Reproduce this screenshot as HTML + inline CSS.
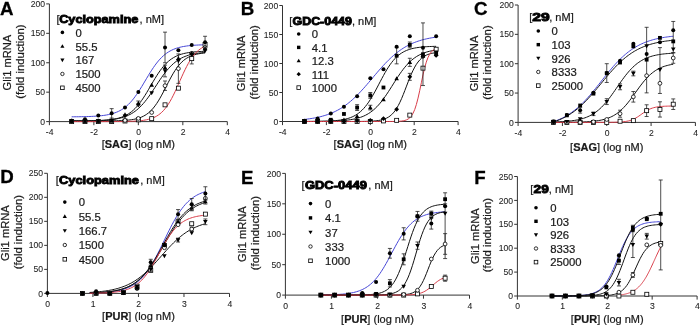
<!DOCTYPE html>
<html><head><meta charset="utf-8"><style>
html,body{margin:0;padding:0;background:#fff;}
body{width:700px;height:327px;overflow:hidden;font-family:"Liberation Sans", sans-serif;}
svg{display:block;will-change:transform;}
</style></head><body><svg width="700" height="327" viewBox="0 0 700 327" font-family="'Liberation Sans', sans-serif"><text x="0.00" y="15.30" font-size="18.7" text-anchor="start" font-weight="bold" fill="#000" stroke="#000" stroke-width="0.3">A</text><path d="M49.40,3.90 V121.60 H227.30" fill="none" stroke="#333" stroke-width="1"/><path d="M46.20,121.60 H49.40 M46.20,92.17 H49.40 M46.20,62.75 H49.40 M46.20,33.32 H49.40 M46.20,3.90 H49.40 M49.40,121.60 v3.6 M93.88,121.60 v3.6 M138.35,121.60 v3.6 M182.83,121.60 v3.6 M227.30,121.60 v3.6 " fill="none" stroke="#333" stroke-width="1"/><text x="45.10" y="124.70" font-size="8.6" text-anchor="end" font-weight="normal" fill="#1a1a1a" stroke="#333" stroke-width="0.08">0</text><text x="45.10" y="95.27" font-size="8.6" text-anchor="end" font-weight="normal" fill="#1a1a1a" stroke="#333" stroke-width="0.08">50</text><text x="45.10" y="65.85" font-size="8.6" text-anchor="end" font-weight="normal" fill="#1a1a1a" stroke="#333" stroke-width="0.08">100</text><text x="45.10" y="36.42" font-size="8.6" text-anchor="end" font-weight="normal" fill="#1a1a1a" stroke="#333" stroke-width="0.08">150</text><text x="45.10" y="7.00" font-size="8.6" text-anchor="end" font-weight="normal" fill="#1a1a1a" stroke="#333" stroke-width="0.08">200</text><text x="49.70" y="134.80" font-size="8.6" text-anchor="middle" font-weight="normal" fill="#1a1a1a" stroke="#333" stroke-width="0.08">-4</text><text x="94.17" y="134.80" font-size="8.6" text-anchor="middle" font-weight="normal" fill="#1a1a1a" stroke="#333" stroke-width="0.08">-2</text><text x="138.65" y="134.80" font-size="8.6" text-anchor="middle" font-weight="normal" fill="#1a1a1a" stroke="#333" stroke-width="0.08">0</text><text x="183.13" y="134.80" font-size="8.6" text-anchor="middle" font-weight="normal" fill="#1a1a1a" stroke="#333" stroke-width="0.08">2</text><text x="227.60" y="134.80" font-size="8.6" text-anchor="middle" font-weight="normal" fill="#1a1a1a" stroke="#333" stroke-width="0.08">4</text><text x="138.35" y="148.00" font-size="11" text-anchor="middle" fill="#1a1a1a" stroke="#1a1a1a" stroke-width="0.22">[<tspan font-weight="bold">SAG</tspan>] (log nM)</text><text transform="translate(10.90,62.55) rotate(-90)" font-size="11.15" text-anchor="middle" fill="#1a1a1a" stroke="#1a1a1a" stroke-width="0.22">Gli1 mRNA</text><text transform="translate(23.60,61.55) rotate(-90)" font-size="11.35" text-anchor="middle" fill="#1a1a1a" stroke="#1a1a1a" stroke-width="0.22">(fold induction)</text><text x="56.40" y="22.50" font-size="11" fill="#1a1a1a" stroke="#1a1a1a" stroke-width="0.22">[</text><text x="59.20" y="22.50" font-size="11" font-weight="bold" fill="#000" stroke="#000" stroke-width="0.9" textLength="79.10" lengthAdjust="spacingAndGlyphs">Cyclopamine</text><text x="164.00" y="22.50" font-size="11" text-anchor="end" fill="#1a1a1a" stroke="#1a1a1a" stroke-width="0.22">, nM]</text><circle cx="62.40" cy="32.40" r="1.80" fill="#000"/><text x="75.50" y="36.70" font-size="11.3" text-anchor="start" font-weight="normal" fill="#1a1a1a"  stroke="#1a1a1a" stroke-width="0.22">0</text><path d="M62.40,44.18 L64.47,47.80 L60.33,47.80Z" fill="#000"/><text x="75.50" y="50.55" font-size="11.3" text-anchor="start" font-weight="normal" fill="#1a1a1a"  stroke="#1a1a1a" stroke-width="0.22">55.5</text><path d="M62.40,62.17 L64.47,58.55 L60.33,58.55Z" fill="#000"/><text x="75.50" y="64.40" font-size="11.3" text-anchor="start" font-weight="normal" fill="#1a1a1a"  stroke="#1a1a1a" stroke-width="0.22">167</text><circle cx="62.40" cy="73.95" r="1.71" fill="#fff" stroke="#000" stroke-width="0.8"/><text x="75.50" y="78.25" font-size="11.3" text-anchor="start" font-weight="normal" fill="#1a1a1a"  stroke="#1a1a1a" stroke-width="0.22">1500</text><rect x="60.60" y="86.00" width="3.60" height="3.60" fill="#fff" stroke="#000" stroke-width="0.8"/><text x="75.50" y="92.10" font-size="11.3" text-anchor="start" font-weight="normal" fill="#1a1a1a"  stroke="#1a1a1a" stroke-width="0.22">4500</text><polyline points="71.64,116.82 73.31,116.80 74.97,116.79 76.64,116.77 78.31,116.75 79.98,116.73 81.64,116.70 83.31,116.67 84.98,116.63 86.65,116.59 88.32,116.53 89.98,116.47 91.65,116.40 93.32,116.32 94.99,116.23 96.65,116.12 98.32,115.99 99.99,115.84 101.66,115.67 103.33,115.46 104.99,115.23 106.66,114.96 108.33,114.64 110.00,114.28 111.66,113.86 113.33,113.37 115.00,112.81 116.67,112.17 118.34,111.44 120.00,110.60 121.67,109.65 123.34,108.57 125.01,107.36 126.68,106.00 128.34,104.48 130.01,102.80 131.68,100.95 133.35,98.93 135.01,96.75 136.68,94.42 138.35,91.94 140.02,89.34 141.69,86.65 143.35,83.88 145.02,81.07 146.69,78.27 148.36,75.49 150.02,72.77 151.69,70.14 153.36,67.63 155.03,65.25 156.70,63.03 158.36,60.97 160.03,59.08 161.70,57.35 163.37,55.79 165.03,54.39 166.70,53.14 168.37,52.02 170.04,51.04 171.71,50.17 173.37,49.41 175.04,48.75 176.71,48.17 178.38,47.66 180.05,47.23 181.71,46.85 183.38,46.52 185.05,46.24 186.72,45.99 188.38,45.78 190.05,45.60 191.72,45.45 193.39,45.31 195.06,45.20 196.72,45.10 198.39,45.01 200.06,44.94 201.73,44.88 203.39,44.83 205.06,44.78" fill="none" stroke="#4646d6" stroke-width="1"/><polyline points="71.64,120.98 73.31,120.98 74.97,120.97 76.64,120.96 78.31,120.95 79.98,120.94 81.64,120.93 83.31,120.92 84.98,120.90 86.65,120.88 88.32,120.86 89.98,120.83 91.65,120.80 93.32,120.76 94.99,120.72 96.65,120.67 98.32,120.60 99.99,120.53 101.66,120.45 103.33,120.35 104.99,120.23 106.66,120.09 108.33,119.93 110.00,119.74 111.66,119.52 113.33,119.26 115.00,118.96 116.67,118.61 118.34,118.19 120.00,117.71 121.67,117.16 123.34,116.52 125.01,115.77 126.68,114.92 128.34,113.95 130.01,112.83 131.68,111.57 133.35,110.15 135.01,108.56 136.68,106.79 138.35,104.84 140.02,102.71 141.69,100.41 143.35,97.94 145.02,95.34 146.69,92.62 148.36,89.81 150.02,86.95 151.69,84.08 153.36,81.24 155.03,78.46 156.70,75.77 158.36,73.21 160.03,70.80 161.70,68.55 163.37,66.48 165.03,64.59 166.70,62.88 168.37,61.35 170.04,59.98 171.71,58.77 173.37,57.71 175.04,56.77 176.71,55.96 178.38,55.25 180.05,54.64 181.71,54.11 183.38,53.65 185.05,53.26 186.72,52.93 188.38,52.64 190.05,52.39 191.72,52.18 193.39,52.00 195.06,51.85 196.72,51.72 198.39,51.61 200.06,51.51 201.73,51.43 203.39,51.37 205.06,51.31" fill="none" stroke="#111" stroke-width="1"/><polyline points="71.64,120.97 73.31,120.96 74.97,120.95 76.64,120.95 78.31,120.94 79.98,120.92 81.64,120.91 83.31,120.89 84.98,120.87 86.65,120.85 88.32,120.83 89.98,120.80 91.65,120.76 93.32,120.73 94.99,120.68 96.65,120.63 98.32,120.57 99.99,120.50 101.66,120.42 103.33,120.33 104.99,120.22 106.66,120.10 108.33,119.95 110.00,119.79 111.66,119.60 113.33,119.38 115.00,119.13 116.67,118.84 118.34,118.51 120.00,118.13 121.67,117.70 123.34,117.21 125.01,116.64 126.68,116.00 128.34,115.27 130.01,114.45 131.68,113.53 133.35,112.49 135.01,111.33 136.68,110.04 138.35,108.62 140.02,107.05 141.69,105.34 143.35,103.49 145.02,101.50 146.69,99.37 148.36,97.13 150.02,94.78 151.69,92.34 153.36,89.85 155.03,87.31 156.70,84.76 158.36,82.23 160.03,79.74 161.70,77.32 163.37,74.99 165.03,72.77 166.70,70.67 168.37,68.71 170.04,66.89 171.71,65.20 173.37,63.67 175.04,62.27 176.71,61.01 178.38,59.87 180.05,58.86 181.71,57.95 183.38,57.15 185.05,56.44 186.72,55.82 188.38,55.27 190.05,54.79 191.72,54.37 193.39,54.00 195.06,53.68 196.72,53.40 198.39,53.15 200.06,52.94 201.73,52.76 203.39,52.60 205.06,52.46" fill="none" stroke="#111" stroke-width="1"/><polyline points="71.64,121.01 73.31,121.01 74.97,121.01 76.64,121.01 78.31,121.01 79.98,121.01 81.64,121.01 83.31,121.01 84.98,121.00 86.65,121.00 88.32,121.00 89.98,121.00 91.65,121.00 93.32,120.99 94.99,120.99 96.65,120.99 98.32,120.98 99.99,120.97 101.66,120.97 103.33,120.96 104.99,120.95 106.66,120.93 108.33,120.92 110.00,120.90 111.66,120.87 113.33,120.84 115.00,120.81 116.67,120.77 118.34,120.72 120.00,120.65 121.67,120.58 123.34,120.49 125.01,120.38 126.68,120.25 128.34,120.10 130.01,119.91 131.68,119.68 133.35,119.41 135.01,119.08 136.68,118.69 138.35,118.23 140.02,117.67 141.69,117.01 143.35,116.23 145.02,115.32 146.69,114.24 148.36,112.99 150.02,111.54 151.69,109.88 153.36,108.00 155.03,105.87 156.70,103.51 158.36,100.92 160.03,98.11 161.70,95.12 163.37,91.99 165.03,88.76 166.70,85.49 168.37,82.25 170.04,79.08 171.71,76.03 173.37,73.16 175.04,70.50 176.71,68.06 178.38,65.85 180.05,63.89 181.71,62.15 183.38,60.64 185.05,59.32 186.72,58.19 188.38,57.22 190.05,56.40 191.72,55.70 193.39,55.12 195.06,54.62 196.72,54.21 198.39,53.86 200.06,53.57 201.73,53.33 203.39,53.13 205.06,52.97" fill="none" stroke="#111" stroke-width="1"/><polyline points="71.64,121.60 73.31,121.60 74.97,121.60 76.64,121.60 78.31,121.60 79.98,121.60 81.64,121.60 83.31,121.60 84.98,121.60 86.65,121.60 88.32,121.60 89.98,121.60 91.65,121.60 93.32,121.60 94.99,121.59 96.65,121.59 98.32,121.59 99.99,121.59 101.66,121.59 103.33,121.59 104.99,121.58 106.66,121.58 108.33,121.58 110.00,121.57 111.66,121.56 113.33,121.56 115.00,121.55 116.67,121.54 118.34,121.53 120.00,121.51 121.67,121.49 123.34,121.47 125.01,121.44 126.68,121.41 128.34,121.37 130.01,121.32 131.68,121.26 133.35,121.19 135.01,121.10 136.68,121.00 138.35,120.87 140.02,120.72 141.69,120.54 143.35,120.32 145.02,120.06 146.69,119.75 148.36,119.37 150.02,118.92 151.69,118.39 153.36,117.75 155.03,116.99 156.70,116.09 158.36,115.03 160.03,113.79 161.70,112.35 163.37,110.68 165.03,108.76 166.70,106.58 168.37,104.13 170.04,101.41 171.71,98.41 173.37,95.18 175.04,91.73 176.71,88.11 178.38,84.39 180.05,80.62 181.71,76.87 183.38,73.21 185.05,69.70 186.72,66.39 188.38,63.31 190.05,60.50 191.72,57.96 193.39,55.69 195.06,53.69 196.72,51.94 198.39,50.42 200.06,49.11 201.73,48.00 203.39,47.05 205.06,46.25" fill="none" stroke="#d83c48" stroke-width="1"/><rect x="69.64" y="119.60" width="4.00" height="4.00" fill="#fff" stroke="#000" stroke-width="0.8"/><rect x="82.98" y="119.60" width="4.00" height="4.00" fill="#fff" stroke="#000" stroke-width="0.8"/><rect x="96.32" y="119.60" width="4.00" height="4.00" fill="#fff" stroke="#000" stroke-width="0.8"/><rect x="109.66" y="119.60" width="4.00" height="4.00" fill="#fff" stroke="#000" stroke-width="0.8"/><rect x="123.01" y="119.01" width="4.00" height="4.00" fill="#fff" stroke="#000" stroke-width="0.8"/><rect x="136.35" y="117.83" width="4.00" height="4.00" fill="#fff" stroke="#000" stroke-width="0.8"/><rect x="149.69" y="116.66" width="4.00" height="4.00" fill="#fff" stroke="#000" stroke-width="0.8"/><rect x="163.03" y="102.83" width="4.00" height="4.00" fill="#fff" stroke="#000" stroke-width="0.8"/><rect x="176.38" y="86.17" width="4.00" height="4.00" fill="#fff" stroke="#000" stroke-width="0.8"/><path d="M191.72,53.33 V63.93 M189.72,53.33 h4 M189.72,63.93 h4" stroke="#222" stroke-width="0.8" fill="none"/><rect x="189.72" y="56.63" width="4.00" height="4.00" fill="#fff" stroke="#000" stroke-width="0.8"/><rect x="203.06" y="42.51" width="4.00" height="4.00" fill="#fff" stroke="#000" stroke-width="0.8"/><circle cx="71.64" cy="121.01" r="1.90" fill="#fff" stroke="#000" stroke-width="0.8"/><circle cx="84.98" cy="121.01" r="1.90" fill="#fff" stroke="#000" stroke-width="0.8"/><circle cx="98.32" cy="121.01" r="1.90" fill="#fff" stroke="#000" stroke-width="0.8"/><circle cx="111.66" cy="121.01" r="1.90" fill="#fff" stroke="#000" stroke-width="0.8"/><circle cx="125.01" cy="120.42" r="1.90" fill="#fff" stroke="#000" stroke-width="0.8"/><circle cx="138.35" cy="118.42" r="1.90" fill="#fff" stroke="#000" stroke-width="0.8"/><circle cx="151.69" cy="112.48" r="1.90" fill="#fff" stroke="#000" stroke-width="0.8"/><path d="M165.03,80.99 V90.41 M163.03,80.99 h4 M163.03,90.41 h4" stroke="#222" stroke-width="0.8" fill="none"/><circle cx="165.03" cy="85.70" r="1.90" fill="#fff" stroke="#000" stroke-width="0.8"/><path d="M178.38,53.92 V83.35 M176.38,53.92 h4 M176.38,83.35 h4" stroke="#222" stroke-width="0.8" fill="none"/><circle cx="178.38" cy="68.64" r="1.90" fill="#fff" stroke="#000" stroke-width="0.8"/><circle cx="191.72" cy="53.33" r="1.90" fill="#fff" stroke="#000" stroke-width="0.8"/><circle cx="205.06" cy="47.45" r="1.90" fill="#fff" stroke="#000" stroke-width="0.8"/><path d="M71.64,123.31 L73.94,119.29 L69.34,119.29Z" fill="#000"/><path d="M84.98,123.31 L87.28,119.29 L82.68,119.29Z" fill="#000"/><path d="M98.32,123.31 L100.62,119.29 L96.02,119.29Z" fill="#000"/><path d="M111.66,122.72 L113.96,118.70 L109.36,118.70Z" fill="#000"/><path d="M125.01,118.60 L127.31,114.58 L122.71,114.58Z" fill="#000"/><path d="M138.35,107.42 L140.65,103.40 L136.05,103.40Z" fill="#000"/><path d="M151.69,95.18 L153.99,91.16 L149.39,91.16Z" fill="#000"/><path d="M165.03,65.10 V76.87 M163.03,65.10 h4 M163.03,76.87 h4" stroke="#222" stroke-width="0.8" fill="none"/><path d="M165.03,73.29 L167.34,69.26 L162.73,69.26Z" fill="#000"/><path d="M178.38,63.28 L180.68,59.26 L176.08,59.26Z" fill="#000"/><path d="M191.72,56.81 L194.02,52.79 L189.42,52.79Z" fill="#000"/><path d="M205.06,53.28 L207.36,49.26 L202.76,49.26Z" fill="#000"/><path d="M71.64,118.71 L73.94,122.74 L69.34,122.74Z" fill="#000"/><path d="M84.98,118.71 L87.28,122.74 L82.68,122.74Z" fill="#000"/><path d="M98.32,118.71 L100.62,122.74 L96.02,122.74Z" fill="#000"/><path d="M111.66,118.12 L113.96,122.15 L109.36,122.15Z" fill="#000"/><path d="M125.01,112.24 L127.31,116.26 L122.71,116.26Z" fill="#000"/><path d="M138.35,101.00 V105.71 M136.35,101.00 h4 M136.35,105.71 h4" stroke="#222" stroke-width="0.8" fill="none"/><path d="M138.35,101.06 L140.65,105.08 L136.05,105.08Z" fill="#000"/><path d="M151.69,82.81 L153.99,86.84 L149.39,86.84Z" fill="#000"/><path d="M165.03,65.16 L167.34,69.18 L162.73,69.18Z" fill="#000"/><path d="M178.38,55.98 L180.68,60.00 L176.08,60.00Z" fill="#000"/><path d="M191.72,51.03 L194.02,55.06 L189.42,55.06Z" fill="#000"/><path d="M205.06,46.33 L207.36,50.35 L202.76,50.35Z" fill="#000"/><circle cx="71.64" cy="121.01" r="2.00" fill="#000"/><circle cx="84.98" cy="119.25" r="2.00" fill="#000"/><circle cx="98.32" cy="115.48" r="2.00" fill="#000"/><path d="M111.66,108.65 V118.07 M109.66,108.65 h4 M109.66,118.07 h4" stroke="#222" stroke-width="0.8" fill="none"/><circle cx="111.66" cy="113.36" r="2.00" fill="#000"/><circle cx="125.01" cy="107.48" r="2.00" fill="#000"/><circle cx="138.35" cy="91.88" r="2.00" fill="#000"/><circle cx="151.69" cy="75.70" r="2.00" fill="#000"/><path d="M165.03,32.15 V62.75 M163.03,32.15 h4 M163.03,62.75 h4" stroke="#222" stroke-width="0.8" fill="none"/><circle cx="165.03" cy="47.45" r="2.00" fill="#000"/><circle cx="178.38" cy="50.21" r="2.00" fill="#000"/><circle cx="191.72" cy="44.92" r="2.00" fill="#000"/><path d="M205.06,36.27 V48.04 M203.06,36.27 h4 M203.06,48.04 h4" stroke="#222" stroke-width="0.8" fill="none"/><circle cx="205.06" cy="42.15" r="2.00" fill="#000"/><text x="240.80" y="15.10" font-size="18.7" text-anchor="start" font-weight="bold" fill="#000" stroke="#000" stroke-width="0.3">B</text><path d="M282.50,5.50 V121.50 H458.10" fill="none" stroke="#333" stroke-width="1"/><path d="M279.30,121.50 H282.50 M279.30,92.50 H282.50 M279.30,63.50 H282.50 M279.30,34.50 H282.50 M279.30,5.50 H282.50 M282.50,121.50 v3.6 M326.40,121.50 v3.6 M370.30,121.50 v3.6 M414.20,121.50 v3.6 M458.10,121.50 v3.6 " fill="none" stroke="#333" stroke-width="1"/><text x="278.20" y="124.60" font-size="8.6" text-anchor="end" font-weight="normal" fill="#1a1a1a" stroke="#333" stroke-width="0.08">0</text><text x="278.20" y="95.60" font-size="8.6" text-anchor="end" font-weight="normal" fill="#1a1a1a" stroke="#333" stroke-width="0.08">50</text><text x="278.20" y="66.60" font-size="8.6" text-anchor="end" font-weight="normal" fill="#1a1a1a" stroke="#333" stroke-width="0.08">100</text><text x="278.20" y="37.60" font-size="8.6" text-anchor="end" font-weight="normal" fill="#1a1a1a" stroke="#333" stroke-width="0.08">150</text><text x="278.20" y="8.60" font-size="8.6" text-anchor="end" font-weight="normal" fill="#1a1a1a" stroke="#333" stroke-width="0.08">200</text><text x="282.80" y="134.70" font-size="8.6" text-anchor="middle" font-weight="normal" fill="#1a1a1a" stroke="#333" stroke-width="0.08">-4</text><text x="326.70" y="134.70" font-size="8.6" text-anchor="middle" font-weight="normal" fill="#1a1a1a" stroke="#333" stroke-width="0.08">-2</text><text x="370.60" y="134.70" font-size="8.6" text-anchor="middle" font-weight="normal" fill="#1a1a1a" stroke="#333" stroke-width="0.08">0</text><text x="414.50" y="134.70" font-size="8.6" text-anchor="middle" font-weight="normal" fill="#1a1a1a" stroke="#333" stroke-width="0.08">2</text><text x="458.40" y="134.70" font-size="8.6" text-anchor="middle" font-weight="normal" fill="#1a1a1a" stroke="#333" stroke-width="0.08">4</text><text x="370.30" y="147.90" font-size="11" text-anchor="middle" fill="#1a1a1a" stroke="#1a1a1a" stroke-width="0.22">[<tspan font-weight="bold">SAG</tspan>] (log nM)</text><text transform="translate(244.70,63.30) rotate(-90)" font-size="11.15" text-anchor="middle" fill="#1a1a1a" stroke="#1a1a1a" stroke-width="0.22">Gli1 mRNA</text><text transform="translate(257.60,62.30) rotate(-90)" font-size="11.35" text-anchor="middle" fill="#1a1a1a" stroke="#1a1a1a" stroke-width="0.22">(fold induction)</text><text x="289.30" y="24.60" font-size="11" fill="#1a1a1a" stroke="#1a1a1a" stroke-width="0.22">[</text><text x="292.50" y="24.60" font-size="11" font-weight="bold" fill="#000" stroke="#000" stroke-width="0.9" textLength="59.40" lengthAdjust="spacingAndGlyphs">GDC-0449</text><text x="376.40" y="24.60" font-size="11" text-anchor="end" fill="#1a1a1a" stroke="#1a1a1a" stroke-width="0.22">, nM]</text><circle cx="298.70" cy="34.00" r="1.80" fill="#000"/><text x="311.80" y="38.30" font-size="11.3" text-anchor="start" font-weight="normal" fill="#1a1a1a"  stroke="#1a1a1a" stroke-width="0.22">0</text><rect x="296.99" y="45.69" width="3.42" height="3.42" fill="#000"/><text x="311.80" y="51.70" font-size="11.3" text-anchor="start" font-weight="normal" fill="#1a1a1a"  stroke="#1a1a1a" stroke-width="0.22">4.1</text><path d="M298.70,58.73 L300.77,62.35 L296.63,62.35Z" fill="#000"/><text x="311.80" y="65.10" font-size="11.3" text-anchor="start" font-weight="normal" fill="#1a1a1a"  stroke="#1a1a1a" stroke-width="0.22">12.3</text><path d="M298.70,72.04 L300.86,74.20 L298.70,76.36 L296.54,74.20Z" fill="#000"/><text x="311.80" y="78.50" font-size="11.3" text-anchor="start" font-weight="normal" fill="#1a1a1a"  stroke="#1a1a1a" stroke-width="0.22">111</text><rect x="296.90" y="85.80" width="3.60" height="3.60" fill="#fff" stroke="#000" stroke-width="0.8"/><text x="311.80" y="91.90" font-size="11.3" text-anchor="start" font-weight="normal" fill="#1a1a1a"  stroke="#1a1a1a" stroke-width="0.22">1000</text><polyline points="304.45,119.42 306.10,119.24 307.74,119.03 309.39,118.80 311.04,118.56 312.68,118.29 314.33,118.00 315.97,117.69 317.62,117.35 319.27,116.98 320.91,116.58 322.56,116.14 324.20,115.67 325.85,115.17 327.50,114.62 329.14,114.03 330.79,113.39 332.44,112.71 334.08,111.97 335.73,111.18 337.38,110.33 339.02,109.43 340.67,108.47 342.31,107.44 343.96,106.35 345.61,105.19 347.25,103.97 348.90,102.68 350.55,101.32 352.19,99.90 353.84,98.40 355.48,96.85 357.13,95.23 358.78,93.56 360.42,91.83 362.07,90.05 363.72,88.22 365.36,86.36 367.01,84.46 368.65,82.54 370.30,80.60 371.95,78.65 373.59,76.70 375.24,74.75 376.88,72.82 378.53,70.90 380.18,69.02 381.82,67.16 383.47,65.35 385.12,63.59 386.76,61.88 388.41,60.22 390.06,58.63 391.70,57.09 393.35,55.62 394.99,54.22 396.64,52.88 398.29,51.62 399.93,50.41 401.58,49.28 403.23,48.21 404.87,47.20 406.52,46.26 408.16,45.38 409.81,44.55 411.46,43.78 413.10,43.06 414.75,42.39 416.39,41.77 418.04,41.19 419.69,40.66 421.33,40.17 422.98,39.71 424.63,39.29 426.27,38.90 427.92,38.54 429.57,38.20 431.21,37.90 432.86,37.62 434.50,37.36 436.15,37.12" fill="none" stroke="#4646d6" stroke-width="1"/><polyline points="304.45,121.46 306.10,121.46 307.74,121.45 309.39,121.44 311.04,121.43 312.68,121.41 314.33,121.40 315.97,121.38 317.62,121.36 319.27,121.33 320.91,121.30 322.56,121.26 324.20,121.22 325.85,121.17 327.50,121.11 329.14,121.03 330.79,120.95 332.44,120.85 334.08,120.73 335.73,120.60 337.38,120.43 339.02,120.24 340.67,120.02 342.31,119.75 343.96,119.44 345.61,119.08 347.25,118.65 348.90,118.16 350.55,117.58 352.19,116.91 353.84,116.13 355.48,115.23 357.13,114.20 358.78,113.02 360.42,111.68 362.07,110.16 363.72,108.44 365.36,106.54 367.01,104.43 368.65,102.11 370.30,99.60 371.95,96.91 373.59,94.06 375.24,91.08 376.88,87.99 378.53,84.85 380.18,81.70 381.82,78.57 383.47,75.52 385.12,72.57 386.76,69.77 388.41,67.14 390.06,64.69 391.70,62.45 393.35,60.41 394.99,58.56 396.64,56.92 398.29,55.46 399.93,54.17 401.58,53.04 403.23,52.05 404.87,51.20 406.52,50.46 408.16,49.82 409.81,49.27 411.46,48.80 413.10,48.39 414.75,48.05 416.39,47.75 418.04,47.50 419.69,47.29 421.33,47.11 422.98,46.96 424.63,46.83 426.27,46.71 427.92,46.62 429.57,46.54 431.21,46.47 432.86,46.42 434.50,46.37 436.15,46.33" fill="none" stroke="#111" stroke-width="1"/><polyline points="304.45,121.47 306.10,121.46 307.74,121.46 309.39,121.45 311.04,121.44 312.68,121.43 314.33,121.42 315.97,121.41 317.62,121.39 319.27,121.38 320.91,121.36 322.56,121.34 324.20,121.31 325.85,121.28 327.50,121.25 329.14,121.21 330.79,121.17 332.44,121.12 334.08,121.06 335.73,120.99 337.38,120.91 339.02,120.82 340.67,120.72 342.31,120.60 343.96,120.46 345.61,120.31 347.25,120.13 348.90,119.92 350.55,119.68 352.19,119.41 353.84,119.10 355.48,118.74 357.13,118.34 358.78,117.87 360.42,117.35 362.07,116.75 363.72,116.07 365.36,115.31 367.01,114.44 368.65,113.48 370.30,112.39 371.95,111.19 373.59,109.85 375.24,108.38 376.88,106.76 378.53,105.01 380.18,103.10 381.82,101.06 383.47,98.89 385.12,96.59 386.76,94.18 388.41,91.69 390.06,89.13 391.70,86.53 393.35,83.91 394.99,81.31 396.64,78.74 398.29,76.23 399.93,73.80 401.58,71.48 403.23,69.28 404.87,67.21 406.52,65.28 408.16,63.50 409.81,61.85 411.46,60.35 413.10,58.99 414.75,57.76 416.39,56.65 418.04,55.66 419.69,54.78 421.33,53.99 422.98,53.30 424.63,52.69 426.27,52.15 427.92,51.67 429.57,51.25 431.21,50.89 432.86,50.57 434.50,50.29 436.15,50.04" fill="none" stroke="#111" stroke-width="1"/><polyline points="304.45,121.50 306.10,121.50 307.74,121.50 309.39,121.50 311.04,121.50 312.68,121.50 314.33,121.50 315.97,121.50 317.62,121.50 319.27,121.50 320.91,121.50 322.56,121.50 324.20,121.50 325.85,121.50 327.50,121.50 329.14,121.50 330.79,121.50 332.44,121.50 334.08,121.50 335.73,121.50 337.38,121.50 339.02,121.50 340.67,121.50 342.31,121.50 343.96,121.49 345.61,121.49 347.25,121.49 348.90,121.49 350.55,121.48 352.19,121.48 353.84,121.47 355.48,121.47 357.13,121.46 358.78,121.45 360.42,121.43 362.07,121.41 363.72,121.39 365.36,121.36 367.01,121.32 368.65,121.26 370.30,121.20 371.95,121.11 373.59,121.01 375.24,120.87 376.88,120.69 378.53,120.47 380.18,120.18 381.82,119.82 383.47,119.36 385.12,118.77 386.76,118.04 388.41,117.13 390.06,115.99 391.70,114.59 393.35,112.88 394.99,110.82 396.64,108.37 398.29,105.52 399.93,102.25 401.58,98.60 403.23,94.64 404.87,90.44 406.52,86.12 408.16,81.83 409.81,77.68 411.46,73.79 413.10,70.24 414.75,67.08 416.39,64.34 418.04,62.00 419.69,60.03 421.33,58.41 422.98,57.08 424.63,56.01 426.27,55.15 427.92,54.46 429.57,53.91 431.21,53.48 432.86,53.14 434.50,52.87 436.15,52.66" fill="none" stroke="#111" stroke-width="1"/><polyline points="304.45,121.50 306.10,121.50 307.74,121.50 309.39,121.50 311.04,121.50 312.68,121.50 314.33,121.50 315.97,121.50 317.62,121.50 319.27,121.50 320.91,121.50 322.56,121.50 324.20,121.50 325.85,121.50 327.50,121.50 329.14,121.50 330.79,121.50 332.44,121.50 334.08,121.50 335.73,121.50 337.38,121.50 339.02,121.50 340.67,121.50 342.31,121.50 343.96,121.50 345.61,121.50 347.25,121.50 348.90,121.50 350.55,121.50 352.19,121.50 353.84,121.50 355.48,121.50 357.13,121.50 358.78,121.50 360.42,121.50 362.07,121.50 363.72,121.50 365.36,121.50 367.01,121.50 368.65,121.50 370.30,121.50 371.95,121.50 373.59,121.50 375.24,121.50 376.88,121.50 378.53,121.50 380.18,121.50 381.82,121.50 383.47,121.50 385.12,121.49 386.76,121.49 388.41,121.49 390.06,121.48 391.70,121.47 393.35,121.45 394.99,121.42 396.64,121.38 398.29,121.31 399.93,121.21 401.58,121.05 403.23,120.81 404.87,120.44 406.52,119.87 408.16,119.03 409.81,117.76 411.46,115.89 413.10,113.20 414.75,109.44 416.39,104.43 418.04,98.12 419.69,90.73 421.33,82.78 422.98,74.97 424.63,67.97 426.27,62.16 427.92,57.67 429.57,54.37 431.21,52.04 432.86,50.43 434.50,49.35 436.15,48.63" fill="none" stroke="#d83c48" stroke-width="1"/><rect x="302.45" y="119.50" width="4.00" height="4.00" fill="#fff" stroke="#000" stroke-width="0.8"/><rect x="315.62" y="119.50" width="4.00" height="4.00" fill="#fff" stroke="#000" stroke-width="0.8"/><rect x="328.79" y="119.50" width="4.00" height="4.00" fill="#fff" stroke="#000" stroke-width="0.8"/><rect x="341.96" y="119.50" width="4.00" height="4.00" fill="#fff" stroke="#000" stroke-width="0.8"/><rect x="355.13" y="119.50" width="4.00" height="4.00" fill="#fff" stroke="#000" stroke-width="0.8"/><rect x="368.30" y="119.50" width="4.00" height="4.00" fill="#fff" stroke="#000" stroke-width="0.8"/><rect x="381.47" y="118.92" width="4.00" height="4.00" fill="#fff" stroke="#000" stroke-width="0.8"/><rect x="394.64" y="118.34" width="4.00" height="4.00" fill="#fff" stroke="#000" stroke-width="0.8"/><rect x="407.81" y="113.12" width="4.00" height="4.00" fill="#fff" stroke="#000" stroke-width="0.8"/><rect x="420.98" y="66.14" width="4.00" height="4.00" fill="#fff" stroke="#000" stroke-width="0.8"/><rect x="434.15" y="47.23" width="4.00" height="4.00" fill="#fff" stroke="#000" stroke-width="0.8"/><path d="M304.45,119.10 L306.85,121.50 L304.45,123.90 L302.05,121.50Z" fill="#000"/><path d="M317.62,119.10 L320.02,121.50 L317.62,123.90 L315.22,121.50Z" fill="#000"/><path d="M330.79,119.10 L333.19,121.50 L330.79,123.90 L328.39,121.50Z" fill="#000"/><path d="M343.96,119.10 L346.36,121.50 L343.96,123.90 L341.56,121.50Z" fill="#000"/><path d="M357.13,118.52 L359.53,120.92 L357.13,123.32 L354.73,120.92Z" fill="#000"/><path d="M370.30,117.94 L372.70,120.34 L370.30,122.74 L367.90,120.34Z" fill="#000"/><path d="M383.47,116.20 L385.87,118.60 L383.47,121.00 L381.07,118.60Z" fill="#000"/><path d="M396.64,106.92 L399.04,109.32 L396.64,111.72 L394.24,109.32Z" fill="#000"/><path d="M409.81,73.36 V80.32 M407.81,73.36 h4 M407.81,80.32 h4" stroke="#222" stroke-width="0.8" fill="none"/><path d="M409.81,74.44 L412.21,76.84 L409.81,79.24 L407.41,76.84Z" fill="#000"/><path d="M422.98,54.14 L425.38,56.54 L422.98,58.94 L420.58,56.54Z" fill="#000"/><path d="M436.15,52.98 L438.55,55.38 L436.15,57.78 L433.75,55.38Z" fill="#000"/><path d="M304.45,119.20 L306.75,123.22 L302.15,123.22Z" fill="#000"/><path d="M317.62,119.20 L319.92,123.22 L315.32,123.22Z" fill="#000"/><path d="M330.79,118.62 L333.09,122.64 L328.49,122.64Z" fill="#000"/><path d="M343.96,117.46 L346.26,121.48 L341.66,121.48Z" fill="#000"/><path d="M357.13,113.98 L359.43,118.00 L354.83,118.00Z" fill="#000"/><path d="M370.30,105.26 V109.90 M368.30,105.26 h4 M368.30,109.90 h4" stroke="#222" stroke-width="0.8" fill="none"/><path d="M370.30,105.28 L372.60,109.30 L368.00,109.30Z" fill="#000"/><path d="M383.47,97.16 L385.77,101.19 L381.17,101.19Z" fill="#000"/><path d="M396.64,76.34 L398.94,80.36 L394.34,80.36Z" fill="#000"/><path d="M409.81,58.28 V66.40 M407.81,58.28 h4 M407.81,66.40 h4" stroke="#222" stroke-width="0.8" fill="none"/><path d="M409.81,60.04 L412.11,64.06 L407.51,64.06Z" fill="#000"/><path d="M422.98,53.66 L425.28,57.68 L420.68,57.68Z" fill="#000"/><path d="M436.15,51.34 L438.45,55.37 L433.85,55.37Z" fill="#000"/><rect x="302.55" y="119.60" width="3.80" height="3.80" fill="#000"/><rect x="315.72" y="119.02" width="3.80" height="3.80" fill="#000"/><rect x="328.89" y="117.86" width="3.80" height="3.80" fill="#000"/><rect x="342.06" y="112.06" width="3.80" height="3.80" fill="#000"/><path d="M357.13,104.68 V110.48 M355.13,104.68 h4 M355.13,110.48 h4" stroke="#222" stroke-width="0.8" fill="none"/><rect x="355.23" y="105.68" width="3.80" height="3.80" fill="#000"/><path d="M370.30,92.50 V98.30 M368.30,92.50 h4 M368.30,98.30 h4" stroke="#222" stroke-width="0.8" fill="none"/><rect x="368.40" y="93.50" width="3.80" height="3.80" fill="#000"/><rect x="381.57" y="85.61" width="3.80" height="3.80" fill="#000"/><path d="M396.64,47.61 V63.85 M394.64,47.61 h4 M394.64,63.85 h4" stroke="#222" stroke-width="0.8" fill="none"/><rect x="394.74" y="53.83" width="3.80" height="3.80" fill="#000"/><path d="M409.81,42.04 V47.84 M407.81,42.04 h4 M407.81,47.84 h4" stroke="#222" stroke-width="0.8" fill="none"/><rect x="407.91" y="43.04" width="3.80" height="3.80" fill="#000"/><path d="M422.98,22.90 V85.54 M420.98,22.90 h4 M420.98,85.54 h4" stroke="#222" stroke-width="0.8" fill="none"/><rect x="421.08" y="52.32" width="3.80" height="3.80" fill="#000"/><rect x="434.25" y="50.58" width="3.80" height="3.80" fill="#000"/><circle cx="304.45" cy="120.63" r="2.00" fill="#000"/><circle cx="317.62" cy="118.60" r="2.00" fill="#000"/><circle cx="330.79" cy="113.38" r="2.00" fill="#000"/><circle cx="343.96" cy="106.71" r="2.00" fill="#000"/><circle cx="357.13" cy="96.21" r="2.00" fill="#000"/><circle cx="370.30" cy="78.23" r="2.00" fill="#000"/><circle cx="383.47" cy="69.13" r="2.00" fill="#000"/><circle cx="396.64" cy="46.68" r="2.00" fill="#000"/><circle cx="409.81" cy="36.24" r="2.00" fill="#000"/><circle cx="422.98" cy="47.84" r="2.00" fill="#000"/><circle cx="436.15" cy="36.24" r="2.00" fill="#000"/><text x="474.00" y="15.00" font-size="18.7" text-anchor="start" font-weight="bold" fill="#000" stroke="#000" stroke-width="0.3">C</text><path d="M518.10,5.00 V122.40 H695.40" fill="none" stroke="#333" stroke-width="1"/><path d="M514.90,122.40 H518.10 M514.90,93.05 H518.10 M514.90,63.70 H518.10 M514.90,34.35 H518.10 M514.90,5.00 H518.10 M518.10,122.40 v3.6 M562.42,122.40 v3.6 M606.75,122.40 v3.6 M651.08,122.40 v3.6 M695.40,122.40 v3.6 " fill="none" stroke="#333" stroke-width="1"/><text x="513.80" y="125.50" font-size="8.6" text-anchor="end" font-weight="normal" fill="#1a1a1a" stroke="#333" stroke-width="0.08">0</text><text x="513.80" y="96.15" font-size="8.6" text-anchor="end" font-weight="normal" fill="#1a1a1a" stroke="#333" stroke-width="0.08">50</text><text x="513.80" y="66.80" font-size="8.6" text-anchor="end" font-weight="normal" fill="#1a1a1a" stroke="#333" stroke-width="0.08">100</text><text x="513.80" y="37.45" font-size="8.6" text-anchor="end" font-weight="normal" fill="#1a1a1a" stroke="#333" stroke-width="0.08">150</text><text x="513.80" y="8.10" font-size="8.6" text-anchor="end" font-weight="normal" fill="#1a1a1a" stroke="#333" stroke-width="0.08">200</text><text x="518.40" y="136.00" font-size="8.6" text-anchor="middle" font-weight="normal" fill="#1a1a1a" stroke="#333" stroke-width="0.08">-4</text><text x="562.72" y="136.00" font-size="8.6" text-anchor="middle" font-weight="normal" fill="#1a1a1a" stroke="#333" stroke-width="0.08">-2</text><text x="607.05" y="136.00" font-size="8.6" text-anchor="middle" font-weight="normal" fill="#1a1a1a" stroke="#333" stroke-width="0.08">0</text><text x="651.38" y="136.00" font-size="8.6" text-anchor="middle" font-weight="normal" fill="#1a1a1a" stroke="#333" stroke-width="0.08">2</text><text x="695.70" y="136.00" font-size="8.6" text-anchor="middle" font-weight="normal" fill="#1a1a1a" stroke="#333" stroke-width="0.08">4</text><text x="606.75" y="150.70" font-size="11" text-anchor="middle" fill="#1a1a1a" stroke="#1a1a1a" stroke-width="0.22">[<tspan font-weight="bold">SAG</tspan>] (log nM)</text><text transform="translate(478.20,63.50) rotate(-90)" font-size="11.15" text-anchor="middle" fill="#1a1a1a" stroke="#1a1a1a" stroke-width="0.22">Gli1 mRNA</text><text transform="translate(491.00,62.50) rotate(-90)" font-size="11.35" text-anchor="middle" fill="#1a1a1a" stroke="#1a1a1a" stroke-width="0.22">(fold induction)</text><text x="529.30" y="21.30" font-size="11" fill="#1a1a1a" stroke="#1a1a1a" stroke-width="0.22">[</text><text x="532.30" y="21.30" font-size="11.8" font-weight="bold" fill="#000" stroke="#000" stroke-width="0.9" textLength="17.40" lengthAdjust="spacingAndGlyphs">29</text><text x="573.70" y="21.30" font-size="11" text-anchor="end" fill="#1a1a1a" stroke="#1a1a1a" stroke-width="0.22">, nM]</text><circle cx="538.30" cy="31.00" r="1.80" fill="#000"/><text x="551.60" y="35.30" font-size="11.3" text-anchor="start" font-weight="normal" fill="#1a1a1a"  stroke="#1a1a1a" stroke-width="0.22">0</text><rect x="536.59" y="42.94" width="3.42" height="3.42" fill="#000"/><text x="551.60" y="48.95" font-size="11.3" text-anchor="start" font-weight="normal" fill="#1a1a1a"  stroke="#1a1a1a" stroke-width="0.22">103</text><path d="M538.30,60.37 L540.37,56.75 L536.23,56.75Z" fill="#000"/><text x="551.60" y="62.60" font-size="11.3" text-anchor="start" font-weight="normal" fill="#1a1a1a"  stroke="#1a1a1a" stroke-width="0.22">926</text><circle cx="538.30" cy="71.95" r="1.71" fill="#fff" stroke="#000" stroke-width="0.8"/><text x="551.60" y="76.25" font-size="11.3" text-anchor="start" font-weight="normal" fill="#1a1a1a"  stroke="#1a1a1a" stroke-width="0.22">8333</text><rect x="536.50" y="83.80" width="3.60" height="3.60" fill="#fff" stroke="#000" stroke-width="0.8"/><text x="551.60" y="89.90" font-size="11.3" text-anchor="start" font-weight="normal" fill="#1a1a1a"  stroke="#1a1a1a" stroke-width="0.22">25000</text><polyline points="553.56,121.62 555.06,121.10 556.55,120.55 558.05,119.96 559.54,119.32 561.04,118.65 562.54,117.93 564.03,117.16 565.53,116.34 567.02,115.47 568.52,114.55 570.02,113.58 571.51,112.55 573.01,111.46 574.50,110.32 576.00,109.12 577.50,107.86 578.99,106.54 580.49,105.16 581.98,103.72 583.48,102.23 584.98,100.68 586.47,99.08 587.97,97.43 589.46,95.73 590.96,93.99 592.46,92.21 593.95,90.40 595.45,88.56 596.94,86.70 598.44,84.82 599.94,82.93 601.43,81.03 602.93,79.13 604.42,77.24 605.92,75.37 607.41,73.51 608.91,71.68 610.41,69.88 611.90,68.11 613.40,66.38 614.89,64.70 616.39,63.06 617.89,61.48 619.38,59.95 620.88,58.47 622.37,57.05 623.87,55.69 625.37,54.38 626.86,53.14 628.36,51.95 629.85,50.83 631.35,49.76 632.85,48.74 634.34,47.79 635.84,46.88 637.33,46.03 638.83,45.23 640.33,44.48 641.82,43.77 643.32,43.11 644.81,42.48 646.31,41.90 647.81,41.36 649.30,40.85 650.80,40.38 652.29,39.94 653.79,39.53 655.29,39.15 656.78,38.79 658.28,38.46 659.77,38.16 661.27,37.87 662.77,37.61 664.26,37.36 665.76,37.14 667.25,36.93 668.75,36.73 670.25,36.55 671.74,36.38 673.24,36.23" fill="none" stroke="#4646d6" stroke-width="1"/><polyline points="553.56,121.91 555.06,121.42 556.55,120.89 558.05,120.32 559.54,119.71 561.04,119.07 562.54,118.38 564.03,117.64 565.53,116.86 567.02,116.03 568.52,115.15 570.02,114.22 571.51,113.24 573.01,112.20 574.50,111.11 576.00,109.96 577.50,108.75 578.99,107.49 580.49,106.17 581.98,104.79 583.48,103.37 584.98,101.88 586.47,100.35 587.97,98.78 589.46,97.15 590.96,95.49 592.46,93.79 593.95,92.06 595.45,90.30 596.94,88.52 598.44,86.72 599.94,84.91 601.43,83.10 602.93,81.28 604.42,79.48 605.92,77.68 607.41,75.91 608.91,74.15 610.41,72.43 611.90,70.74 613.40,69.09 614.89,67.48 616.39,65.92 617.89,64.40 619.38,62.94 620.88,61.52 622.37,60.16 623.87,58.86 625.37,57.62 626.86,56.43 628.36,55.29 629.85,54.22 631.35,53.19 632.85,52.22 634.34,51.31 635.84,50.44 637.33,49.63 638.83,48.86 640.33,48.14 641.82,47.47 643.32,46.83 644.81,46.24 646.31,45.68 647.81,45.16 649.30,44.68 650.80,44.23 652.29,43.81 653.79,43.41 655.29,43.05 656.78,42.71 658.28,42.39 659.77,42.10 661.27,41.83 662.77,41.58 664.26,41.34 665.76,41.12 667.25,40.92 668.75,40.74 670.25,40.56 671.74,40.40 673.24,40.26" fill="none" stroke="#111" stroke-width="1"/><polyline points="553.56,122.04 555.06,121.99 556.55,121.94 558.05,121.88 559.54,121.81 561.04,121.74 562.54,121.65 564.03,121.55 565.53,121.44 567.02,121.32 568.52,121.17 570.02,121.01 571.51,120.84 573.01,120.63 574.50,120.41 576.00,120.15 577.50,119.86 578.99,119.54 580.49,119.18 581.98,118.78 583.48,118.33 584.98,117.82 586.47,117.26 587.97,116.64 589.46,115.94 590.96,115.18 592.46,114.33 593.95,113.40 595.45,112.38 596.94,111.26 598.44,110.05 599.94,108.73 601.43,107.32 602.93,105.79 604.42,104.17 605.92,102.44 607.41,100.63 608.91,98.72 610.41,96.74 611.90,94.69 613.40,92.58 614.89,90.44 616.39,88.28 617.89,86.11 619.38,83.95 620.88,81.81 622.37,79.72 623.87,77.69 625.37,75.73 626.86,73.84 628.36,72.05 629.85,70.35 631.35,68.75 632.85,67.25 634.34,65.86 635.84,64.57 637.33,63.39 638.83,62.29 640.33,61.30 641.82,60.39 643.32,59.56 644.81,58.82 646.31,58.14 647.81,57.54 649.30,56.99 650.80,56.50 652.29,56.06 653.79,55.67 655.29,55.32 656.78,55.01 658.28,54.73 659.77,54.48 661.27,54.26 662.77,54.06 664.26,53.89 665.76,53.73 667.25,53.60 668.75,53.48 670.25,53.37 671.74,53.27 673.24,53.19" fill="none" stroke="#111" stroke-width="1"/><polyline points="553.56,122.37 555.06,122.37 556.55,122.36 558.05,122.36 559.54,122.35 561.04,122.34 562.54,122.34 564.03,122.33 565.53,122.31 567.02,122.30 568.52,122.29 570.02,122.27 571.51,122.25 573.01,122.23 574.50,122.20 576.00,122.17 577.50,122.14 578.99,122.10 580.49,122.05 581.98,122.00 583.48,121.94 584.98,121.88 586.47,121.80 587.97,121.71 589.46,121.61 590.96,121.49 592.46,121.36 593.95,121.20 595.45,121.03 596.94,120.82 598.44,120.60 599.94,120.33 601.43,120.04 602.93,119.70 604.42,119.31 605.92,118.88 607.41,118.38 608.91,117.82 610.41,117.20 611.90,116.49 613.40,115.71 614.89,114.83 616.39,113.85 617.89,112.78 619.38,111.59 620.88,110.30 622.37,108.89 623.87,107.37 625.37,105.74 626.86,104.01 628.36,102.18 629.85,100.27 631.35,98.28 632.85,96.24 634.34,94.17 635.84,92.08 637.33,89.99 638.83,87.92 640.33,85.90 641.82,83.94 643.32,82.06 644.81,80.26 646.31,78.57 647.81,76.98 649.30,75.50 650.80,74.14 652.29,72.88 653.79,71.74 655.29,70.70 656.78,69.76 658.28,68.92 659.77,68.16 661.27,67.49 662.77,66.89 664.26,66.35 665.76,65.88 667.25,65.47 668.75,65.10 670.25,64.78 671.74,64.49 673.24,64.24" fill="none" stroke="#111" stroke-width="1"/><polyline points="553.56,122.40 555.06,122.40 556.55,122.40 558.05,122.40 559.54,122.40 561.04,122.40 562.54,122.40 564.03,122.40 565.53,122.40 567.02,122.40 568.52,122.40 570.02,122.40 571.51,122.40 573.01,122.40 574.50,122.40 576.00,122.40 577.50,122.40 578.99,122.40 580.49,122.40 581.98,122.40 583.48,122.40 584.98,122.40 586.47,122.40 587.97,122.40 589.46,122.40 590.96,122.40 592.46,122.40 593.95,122.40 595.45,122.40 596.94,122.39 598.44,122.39 599.94,122.39 601.43,122.39 602.93,122.38 604.42,122.38 605.92,122.37 607.41,122.36 608.91,122.35 610.41,122.33 611.90,122.31 613.40,122.29 614.89,122.25 616.39,122.21 617.89,122.15 619.38,122.08 620.88,121.98 622.37,121.86 623.87,121.71 625.37,121.51 626.86,121.26 628.36,120.94 629.85,120.55 631.35,120.07 632.85,119.49 634.34,118.80 635.84,118.01 637.33,117.10 638.83,116.12 640.33,115.06 641.82,113.98 643.32,112.91 644.81,111.87 646.31,110.91 647.81,110.05 649.30,109.29 650.80,108.65 652.29,108.11 653.79,107.66 655.29,107.30 656.78,107.01 658.28,106.78 659.77,106.60 661.27,106.45 662.77,106.34 664.26,106.26 665.76,106.19 667.25,106.14 668.75,106.10 670.25,106.07 671.74,106.04 673.24,106.02" fill="none" stroke="#d83c48" stroke-width="1"/><path d="M646.64,27.31 V92.87 M644.64,27.31 h4 M644.64,92.87 h4" stroke="#222" stroke-width="0.8" fill="none"/><path d="M659.94,47.62 V93.46 M657.94,47.62 h4 M657.94,93.46 h4" stroke="#222" stroke-width="0.8" fill="none"/><path d="M673.24,21.44 V52.78 M671.24,21.44 h4 M671.24,52.78 h4" stroke="#222" stroke-width="0.8" fill="none"/><rect x="551.56" y="120.40" width="4.00" height="4.00" fill="#fff" stroke="#000" stroke-width="0.8"/><rect x="564.86" y="120.40" width="4.00" height="4.00" fill="#fff" stroke="#000" stroke-width="0.8"/><rect x="578.15" y="120.40" width="4.00" height="4.00" fill="#fff" stroke="#000" stroke-width="0.8"/><rect x="591.45" y="120.40" width="4.00" height="4.00" fill="#fff" stroke="#000" stroke-width="0.8"/><rect x="604.75" y="120.40" width="4.00" height="4.00" fill="#fff" stroke="#000" stroke-width="0.8"/><rect x="618.05" y="119.23" width="4.00" height="4.00" fill="#fff" stroke="#000" stroke-width="0.8"/><rect x="631.35" y="118.64" width="4.00" height="4.00" fill="#fff" stroke="#000" stroke-width="0.8"/><path d="M646.64,104.79 V116.53 M644.64,104.79 h4 M644.64,116.53 h4" stroke="#222" stroke-width="0.8" fill="none"/><rect x="644.64" y="108.66" width="4.00" height="4.00" fill="#fff" stroke="#000" stroke-width="0.8"/><path d="M659.94,101.80 V117.06 M657.94,101.80 h4 M657.94,117.06 h4" stroke="#222" stroke-width="0.8" fill="none"/><rect x="657.94" y="107.43" width="4.00" height="4.00" fill="#fff" stroke="#000" stroke-width="0.8"/><path d="M673.24,98.92 V109.49 M671.24,98.92 h4 M671.24,109.49 h4" stroke="#222" stroke-width="0.8" fill="none"/><rect x="671.24" y="102.20" width="4.00" height="4.00" fill="#fff" stroke="#000" stroke-width="0.8"/><circle cx="553.56" cy="122.40" r="1.90" fill="#fff" stroke="#000" stroke-width="0.8"/><circle cx="566.86" cy="122.40" r="1.90" fill="#fff" stroke="#000" stroke-width="0.8"/><circle cx="580.15" cy="122.40" r="1.90" fill="#fff" stroke="#000" stroke-width="0.8"/><circle cx="593.45" cy="121.81" r="1.90" fill="#fff" stroke="#000" stroke-width="0.8"/><circle cx="606.75" cy="119.47" r="1.90" fill="#fff" stroke="#000" stroke-width="0.8"/><path d="M620.05,110.19 V117.23 M618.05,110.19 h4 M618.05,117.23 h4" stroke="#222" stroke-width="0.8" fill="none"/><circle cx="620.05" cy="113.71" r="1.90" fill="#fff" stroke="#000" stroke-width="0.8"/><path d="M633.35,91.52 V102.09 M631.35,91.52 h4 M631.35,102.09 h4" stroke="#222" stroke-width="0.8" fill="none"/><circle cx="633.35" cy="96.81" r="1.90" fill="#fff" stroke="#000" stroke-width="0.8"/><circle cx="646.64" cy="75.67" r="1.90" fill="#fff" stroke="#000" stroke-width="0.8"/><circle cx="659.94" cy="83.31" r="1.90" fill="#fff" stroke="#000" stroke-width="0.8"/><path d="M673.24,52.72 V63.29 M671.24,52.72 h4 M671.24,63.29 h4" stroke="#222" stroke-width="0.8" fill="none"/><circle cx="673.24" cy="58.01" r="1.90" fill="#fff" stroke="#000" stroke-width="0.8"/><path d="M553.56,124.70 L555.86,120.68 L551.26,120.68Z" fill="#000"/><path d="M566.86,124.11 L569.16,120.09 L564.56,120.09Z" fill="#000"/><path d="M580.15,121.18 L582.45,117.15 L577.86,117.15Z" fill="#000"/><path d="M593.45,112.07 V115.59 M591.45,112.07 h4 M591.45,115.59 h4" stroke="#222" stroke-width="0.8" fill="none"/><path d="M593.45,116.13 L595.75,112.10 L591.15,112.10Z" fill="#000"/><path d="M606.75,98.69 V104.56 M604.75,98.69 h4 M604.75,104.56 h4" stroke="#222" stroke-width="0.8" fill="none"/><path d="M606.75,103.92 L609.05,99.90 L604.45,99.90Z" fill="#000"/><path d="M620.05,83.89 V89.76 M618.05,83.89 h4 M618.05,89.76 h4" stroke="#222" stroke-width="0.8" fill="none"/><path d="M620.05,89.13 L622.35,85.10 L617.75,85.10Z" fill="#000"/><path d="M633.35,71.15 V75.85 M631.35,71.15 h4 M631.35,75.85 h4" stroke="#222" stroke-width="0.8" fill="none"/><path d="M633.35,75.80 L635.64,71.78 L631.05,71.78Z" fill="#000"/><path d="M646.64,48.39 L648.94,44.37 L644.34,44.37Z" fill="#000"/><path d="M659.94,71.99 L662.24,67.96 L657.64,67.96Z" fill="#000"/><path d="M673.24,51.62 L675.54,47.59 L670.94,47.59Z" fill="#000"/><rect x="551.66" y="119.68" width="3.80" height="3.80" fill="#000"/><rect x="564.96" y="113.46" width="3.80" height="3.80" fill="#000"/><rect x="578.25" y="103.59" width="3.80" height="3.80" fill="#000"/><rect x="591.55" y="91.74" width="3.80" height="3.80" fill="#000"/><rect x="604.85" y="71.31" width="3.80" height="3.80" fill="#000"/><rect x="618.15" y="60.63" width="3.80" height="3.80" fill="#000"/><rect x="631.45" y="44.48" width="3.80" height="3.80" fill="#000"/><rect x="644.74" y="57.75" width="3.80" height="3.80" fill="#000"/><rect x="658.04" y="35.97" width="3.80" height="3.80" fill="#000"/><rect x="671.34" y="39.49" width="3.80" height="3.80" fill="#000"/><circle cx="553.56" cy="121.58" r="2.00" fill="#000"/><circle cx="566.86" cy="114.89" r="2.00" fill="#000"/><path d="M580.15,107.26 V113.13 M578.15,107.26 h4 M578.15,113.13 h4" stroke="#222" stroke-width="0.8" fill="none"/><circle cx="580.15" cy="110.19" r="2.00" fill="#000"/><circle cx="593.45" cy="92.87" r="2.00" fill="#000"/><path d="M606.75,63.70 V82.48 M604.75,63.70 h4 M604.75,82.48 h4" stroke="#222" stroke-width="0.8" fill="none"/><circle cx="606.75" cy="73.09" r="2.00" fill="#000"/><circle cx="620.05" cy="60.77" r="2.00" fill="#000"/><circle cx="633.35" cy="43.80" r="2.00" fill="#000"/><circle cx="646.64" cy="53.90" r="2.00" fill="#000"/><circle cx="659.94" cy="42.22" r="2.00" fill="#000"/><circle cx="673.24" cy="30.24" r="2.00" fill="#000"/><text x="0.20" y="183.40" font-size="18.7" text-anchor="start" font-weight="bold" fill="#000" stroke="#000" stroke-width="0.3">D</text><path d="M47.40,173.30 V293.40 H229.50" fill="none" stroke="#333" stroke-width="1"/><path d="M44.20,293.40 H47.40 M44.20,269.38 H47.40 M44.20,245.36 H47.40 M44.20,221.34 H47.40 M44.20,197.32 H47.40 M44.20,173.30 H47.40 M47.40,293.40 v3.6 M92.92,293.40 v3.6 M138.45,293.40 v3.6 M183.97,293.40 v3.6 M229.50,293.40 v3.6 " fill="none" stroke="#333" stroke-width="1"/><text x="43.10" y="296.50" font-size="8.6" text-anchor="end" font-weight="normal" fill="#1a1a1a" stroke="#333" stroke-width="0.08">0</text><text x="43.10" y="272.48" font-size="8.6" text-anchor="end" font-weight="normal" fill="#1a1a1a" stroke="#333" stroke-width="0.08">50</text><text x="43.10" y="248.46" font-size="8.6" text-anchor="end" font-weight="normal" fill="#1a1a1a" stroke="#333" stroke-width="0.08">100</text><text x="43.10" y="224.44" font-size="8.6" text-anchor="end" font-weight="normal" fill="#1a1a1a" stroke="#333" stroke-width="0.08">150</text><text x="43.10" y="200.42" font-size="8.6" text-anchor="end" font-weight="normal" fill="#1a1a1a" stroke="#333" stroke-width="0.08">200</text><text x="43.10" y="176.40" font-size="8.6" text-anchor="end" font-weight="normal" fill="#1a1a1a" stroke="#333" stroke-width="0.08">250</text><text x="47.70" y="307.10" font-size="8.6" text-anchor="middle" font-weight="normal" fill="#1a1a1a" stroke="#333" stroke-width="0.08">0</text><text x="93.22" y="307.10" font-size="8.6" text-anchor="middle" font-weight="normal" fill="#1a1a1a" stroke="#333" stroke-width="0.08">1</text><text x="138.75" y="307.10" font-size="8.6" text-anchor="middle" font-weight="normal" fill="#1a1a1a" stroke="#333" stroke-width="0.08">2</text><text x="184.28" y="307.10" font-size="8.6" text-anchor="middle" font-weight="normal" fill="#1a1a1a" stroke="#333" stroke-width="0.08">3</text><text x="229.80" y="307.10" font-size="8.6" text-anchor="middle" font-weight="normal" fill="#1a1a1a" stroke="#333" stroke-width="0.08">4</text><text x="138.45" y="320.00" font-size="11" text-anchor="middle" fill="#1a1a1a" stroke="#1a1a1a" stroke-width="0.22">[<tspan font-weight="bold">PUR</tspan>] (log nM)</text><text transform="translate(8.80,233.15) rotate(-90)" font-size="11.15" text-anchor="middle" fill="#1a1a1a" stroke="#1a1a1a" stroke-width="0.22">Gli1 mRNA</text><text transform="translate(22.40,232.15) rotate(-90)" font-size="11.35" text-anchor="middle" fill="#1a1a1a" stroke="#1a1a1a" stroke-width="0.22">(fold induction)</text><text x="55.80" y="183.70" font-size="11" fill="#1a1a1a" stroke="#1a1a1a" stroke-width="0.22">[</text><text x="59.00" y="183.70" font-size="11" font-weight="bold" fill="#000" stroke="#000" stroke-width="0.9" textLength="80.00" lengthAdjust="spacingAndGlyphs">Cyclopamine</text><text x="164.70" y="183.70" font-size="11" text-anchor="end" fill="#1a1a1a" stroke="#1a1a1a" stroke-width="0.22">, nM]</text><circle cx="64.80" cy="202.10" r="1.80" fill="#000"/><text x="78.80" y="206.40" font-size="11.3" text-anchor="start" font-weight="normal" fill="#1a1a1a"  stroke="#1a1a1a" stroke-width="0.22">0</text><path d="M64.80,214.33 L66.87,217.95 L62.73,217.95Z" fill="#000"/><text x="78.80" y="220.70" font-size="11.3" text-anchor="start" font-weight="normal" fill="#1a1a1a"  stroke="#1a1a1a" stroke-width="0.22">55.5</text><path d="M64.80,232.77 L66.87,229.15 L62.73,229.15Z" fill="#000"/><text x="78.80" y="235.00" font-size="11.3" text-anchor="start" font-weight="normal" fill="#1a1a1a"  stroke="#1a1a1a" stroke-width="0.22">166.7</text><circle cx="64.80" cy="245.00" r="1.71" fill="#fff" stroke="#000" stroke-width="0.8"/><text x="78.80" y="249.30" font-size="11.3" text-anchor="start" font-weight="normal" fill="#1a1a1a"  stroke="#1a1a1a" stroke-width="0.22">1500</text><rect x="63.00" y="257.50" width="3.60" height="3.60" fill="#fff" stroke="#000" stroke-width="0.8"/><text x="78.80" y="263.60" font-size="11.3" text-anchor="start" font-weight="normal" fill="#1a1a1a"  stroke="#1a1a1a" stroke-width="0.22">4500</text><polyline points="89.74,293.10 91.18,293.07 92.63,293.03 94.07,292.98 95.52,292.93 96.97,292.88 98.41,292.81 99.86,292.74 101.30,292.66 102.75,292.58 104.19,292.48 105.64,292.37 107.08,292.24 108.53,292.11 109.97,291.95 111.42,291.78 112.86,291.59 114.31,291.37 115.76,291.13 117.20,290.87 118.65,290.57 120.09,290.24 121.54,289.87 122.98,289.45 124.43,289.00 125.87,288.49 127.32,287.93 128.76,287.31 130.21,286.62 131.66,285.86 133.10,285.02 134.55,284.09 135.99,283.08 137.44,281.97 138.88,280.75 140.33,279.42 141.77,277.98 143.22,276.42 144.66,274.73 146.11,272.91 147.56,270.96 149.00,268.88 150.45,266.67 151.89,264.33 153.34,261.86 154.78,259.28 156.23,256.60 157.67,253.81 159.12,250.95 160.56,248.03 162.01,245.05 163.45,242.05 164.90,239.04 166.35,236.04 167.79,233.06 169.24,230.14 170.68,227.27 172.13,224.49 173.57,221.81 175.02,219.23 176.46,216.77 177.91,214.43 179.35,212.21 180.80,210.13 182.25,208.19 183.69,206.37 185.14,204.68 186.58,203.12 188.03,201.68 189.47,200.35 190.92,199.14 192.36,198.03 193.81,197.01 195.25,196.09 196.70,195.25 198.14,194.49 199.59,193.80 201.04,193.18 202.48,192.62 203.93,192.11 205.37,191.65" fill="none" stroke="#4646d6" stroke-width="1"/><polyline points="89.74,293.01 91.18,292.97 92.63,292.92 94.07,292.86 95.52,292.80 96.97,292.73 98.41,292.66 99.86,292.57 101.30,292.48 102.75,292.37 104.19,292.25 105.64,292.12 107.08,291.98 108.53,291.82 109.97,291.64 111.42,291.44 112.86,291.22 114.31,290.98 115.76,290.71 117.20,290.41 118.65,290.07 120.09,289.71 121.54,289.30 122.98,288.85 124.43,288.35 125.87,287.80 127.32,287.20 128.76,286.54 130.21,285.81 131.66,285.02 133.10,284.14 134.55,283.19 135.99,282.15 137.44,281.03 138.88,279.80 140.33,278.48 141.77,277.06 143.22,275.53 144.66,273.89 146.11,272.14 147.56,270.28 149.00,268.32 150.45,266.25 151.89,264.07 153.34,261.81 154.78,259.46 156.23,257.03 157.67,254.54 159.12,251.99 160.56,249.41 162.01,246.80 163.45,244.19 164.90,241.58 166.35,238.99 167.79,236.44 169.24,233.94 170.68,231.51 172.13,229.15 173.57,226.87 175.02,224.69 176.46,222.61 177.91,220.63 179.35,218.77 180.80,217.01 182.25,215.35 183.69,213.81 185.14,212.38 186.58,211.05 188.03,209.81 189.47,208.68 190.92,207.63 192.36,206.67 193.81,205.79 195.25,204.99 196.70,204.25 198.14,203.58 199.59,202.97 201.04,202.42 202.48,201.92 203.93,201.47 205.37,201.05" fill="none" stroke="#111" stroke-width="1"/><polyline points="89.74,292.44 91.18,292.35 92.63,292.26 94.07,292.16 95.52,292.04 96.97,291.92 98.41,291.79 99.86,291.65 101.30,291.49 102.75,291.32 104.19,291.13 105.64,290.93 107.08,290.71 108.53,290.48 109.97,290.22 111.42,289.94 112.86,289.64 114.31,289.32 115.76,288.96 117.20,288.58 118.65,288.17 120.09,287.73 121.54,287.25 122.98,286.74 124.43,286.19 125.87,285.60 127.32,284.96 128.76,284.28 130.21,283.56 131.66,282.78 133.10,281.96 134.55,281.08 135.99,280.15 137.44,279.17 138.88,278.13 140.33,277.04 141.77,275.90 143.22,274.69 144.66,273.44 146.11,272.13 147.56,270.77 149.00,269.37 150.45,267.92 151.89,266.43 153.34,264.90 154.78,263.34 156.23,261.76 157.67,260.15 159.12,258.53 160.56,256.90 162.01,255.27 163.45,253.64 164.90,252.02 166.35,250.42 167.79,248.83 169.24,247.28 170.68,245.76 172.13,244.27 173.57,242.82 175.02,241.42 176.46,240.07 177.91,238.77 179.35,237.52 180.80,236.32 182.25,235.18 183.69,234.09 185.14,233.06 186.58,232.09 188.03,231.16 189.47,230.29 190.92,229.47 192.36,228.71 193.81,227.98 195.25,227.31 196.70,226.68 198.14,226.09 199.59,225.54 201.04,225.04 202.48,224.56 203.93,224.12 205.37,223.71" fill="none" stroke="#111" stroke-width="1"/><polyline points="89.74,292.98 91.18,292.93 92.63,292.88 94.07,292.82 95.52,292.75 96.97,292.68 98.41,292.60 99.86,292.51 101.30,292.42 102.75,292.31 104.19,292.19 105.64,292.05 107.08,291.90 108.53,291.74 109.97,291.56 111.42,291.36 112.86,291.13 114.31,290.89 115.76,290.61 117.20,290.31 118.65,289.98 120.09,289.61 121.54,289.21 122.98,288.76 124.43,288.27 125.87,287.73 127.32,287.14 128.76,286.49 130.21,285.78 131.66,285.00 133.10,284.15 134.55,283.23 135.99,282.23 137.44,281.14 138.88,279.96 140.33,278.69 141.77,277.32 143.22,275.86 144.66,274.29 146.11,272.62 147.56,270.85 149.00,268.97 150.45,267.00 151.89,264.93 153.34,262.77 154.78,260.53 156.23,258.21 157.67,255.83 159.12,253.40 160.56,250.92 162.01,248.42 163.45,245.90 164.90,243.38 166.35,240.88 167.79,238.40 169.24,235.96 170.68,233.58 172.13,231.26 173.57,229.01 175.02,226.85 176.46,224.78 177.91,222.80 179.35,220.92 180.80,219.14 182.25,217.47 183.69,215.90 185.14,214.42 186.58,213.05 188.03,211.78 189.47,210.60 190.92,209.50 192.36,208.50 193.81,207.57 195.25,206.72 196.70,205.94 198.14,205.22 199.59,204.57 201.04,203.98 202.48,203.43 203.93,202.94 205.37,202.49" fill="none" stroke="#111" stroke-width="1"/><polyline points="89.74,293.27 91.18,293.26 92.63,293.23 94.07,293.21 95.52,293.18 96.97,293.15 98.41,293.12 99.86,293.08 101.30,293.03 102.75,292.98 104.19,292.92 105.64,292.85 107.08,292.77 108.53,292.68 109.97,292.58 111.42,292.46 112.86,292.33 114.31,292.17 115.76,292.00 117.20,291.80 118.65,291.58 120.09,291.32 121.54,291.03 122.98,290.70 124.43,290.33 125.87,289.91 127.32,289.43 128.76,288.89 130.21,288.28 131.66,287.60 133.10,286.83 134.55,285.98 135.99,285.02 137.44,283.96 138.88,282.78 140.33,281.48 141.77,280.05 143.22,278.49 144.66,276.80 146.11,274.96 147.56,272.99 149.00,270.89 150.45,268.66 151.89,266.31 153.34,263.87 154.78,261.33 156.23,258.74 157.67,256.09 159.12,253.43 160.56,250.77 162.01,248.14 163.45,245.55 164.90,243.04 166.35,240.62 167.79,238.30 169.24,236.10 170.68,234.03 172.13,232.10 173.57,230.30 175.02,228.63 176.46,227.11 177.91,225.71 179.35,224.45 180.80,223.30 182.25,222.26 183.69,221.33 185.14,220.50 186.58,219.75 188.03,219.09 189.47,218.50 190.92,217.98 192.36,217.52 193.81,217.11 195.25,216.74 196.70,216.43 198.14,216.14 199.59,215.90 201.04,215.68 202.48,215.49 203.93,215.32 205.37,215.17" fill="none" stroke="#d83c48" stroke-width="1"/><rect x="80.45" y="291.40" width="4.00" height="4.00" fill="#fff" stroke="#000" stroke-width="0.8"/><rect x="94.11" y="291.40" width="4.00" height="4.00" fill="#fff" stroke="#000" stroke-width="0.8"/><rect x="107.77" y="291.40" width="4.00" height="4.00" fill="#fff" stroke="#000" stroke-width="0.8"/><rect x="121.43" y="290.44" width="4.00" height="4.00" fill="#fff" stroke="#000" stroke-width="0.8"/><rect x="135.08" y="284.19" width="4.00" height="4.00" fill="#fff" stroke="#000" stroke-width="0.8"/><rect x="148.74" y="268.34" width="4.00" height="4.00" fill="#fff" stroke="#000" stroke-width="0.8"/><rect x="162.40" y="243.36" width="4.00" height="4.00" fill="#fff" stroke="#000" stroke-width="0.8"/><rect x="176.06" y="219.82" width="4.00" height="4.00" fill="#fff" stroke="#000" stroke-width="0.8"/><rect x="189.71" y="221.74" width="4.00" height="4.00" fill="#fff" stroke="#000" stroke-width="0.8"/><rect x="203.37" y="212.13" width="4.00" height="4.00" fill="#fff" stroke="#000" stroke-width="0.8"/><circle cx="82.45" cy="293.40" r="1.90" fill="#fff" stroke="#000" stroke-width="0.8"/><circle cx="96.11" cy="293.40" r="1.90" fill="#fff" stroke="#000" stroke-width="0.8"/><circle cx="109.77" cy="293.40" r="1.90" fill="#fff" stroke="#000" stroke-width="0.8"/><circle cx="123.43" cy="292.44" r="1.90" fill="#fff" stroke="#000" stroke-width="0.8"/><circle cx="137.08" cy="288.60" r="1.90" fill="#fff" stroke="#000" stroke-width="0.8"/><circle cx="150.74" cy="266.98" r="1.90" fill="#fff" stroke="#000" stroke-width="0.8"/><circle cx="164.40" cy="247.76" r="1.90" fill="#fff" stroke="#000" stroke-width="0.8"/><circle cx="178.06" cy="224.70" r="1.90" fill="#fff" stroke="#000" stroke-width="0.8"/><path d="M191.71,227.10 V230.95 M189.71,227.10 h4 M189.71,230.95 h4" stroke="#222" stroke-width="0.8" fill="none"/><circle cx="191.71" cy="229.03" r="1.90" fill="#fff" stroke="#000" stroke-width="0.8"/><circle cx="205.37" cy="198.28" r="1.90" fill="#fff" stroke="#000" stroke-width="0.8"/><path d="M82.45,295.70 L84.75,291.67 L80.15,291.67Z" fill="#000"/><path d="M96.11,295.70 L98.41,291.67 L93.81,291.67Z" fill="#000"/><path d="M109.77,295.70 L112.07,291.67 L107.47,291.67Z" fill="#000"/><path d="M123.43,295.22 L125.73,291.19 L121.13,291.19Z" fill="#000"/><path d="M137.08,288.97 L139.38,284.95 L134.78,284.95Z" fill="#000"/><path d="M150.74,267.46 V271.30 M148.74,267.46 h4 M148.74,271.30 h4" stroke="#222" stroke-width="0.8" fill="none"/><path d="M150.74,271.68 L153.04,267.65 L148.44,267.65Z" fill="#000"/><path d="M164.40,258.23 L166.70,254.20 L162.10,254.20Z" fill="#000"/><path d="M178.06,238.15 V242.00 M176.06,238.15 h4 M176.06,242.00 h4" stroke="#222" stroke-width="0.8" fill="none"/><path d="M178.06,242.38 L180.36,238.35 L175.76,238.35Z" fill="#000"/><path d="M191.71,235.17 L194.01,231.14 L189.41,231.14Z" fill="#000"/><path d="M205.37,218.94 V224.70 M203.37,218.94 h4 M203.37,224.70 h4" stroke="#222" stroke-width="0.8" fill="none"/><path d="M205.37,224.12 L207.67,220.10 L203.07,220.10Z" fill="#000"/><path d="M82.45,291.10 L84.75,295.12 L80.15,295.12Z" fill="#000"/><path d="M96.11,290.62 L98.41,294.64 L93.81,294.64Z" fill="#000"/><path d="M109.77,291.10 L112.07,295.12 L107.47,295.12Z" fill="#000"/><path d="M123.43,290.62 L125.73,294.64 L121.13,294.64Z" fill="#000"/><path d="M137.08,285.82 L139.38,289.84 L134.78,289.84Z" fill="#000"/><path d="M150.74,263.24 L153.04,267.26 L148.44,267.26Z" fill="#000"/><path d="M164.40,241.62 L166.70,245.64 L162.10,245.64Z" fill="#000"/><path d="M178.06,219.04 L180.36,223.06 L175.76,223.06Z" fill="#000"/><path d="M191.71,205.01 V210.77 M189.71,205.01 h4 M189.71,210.77 h4" stroke="#222" stroke-width="0.8" fill="none"/><path d="M191.71,205.59 L194.01,209.61 L189.41,209.61Z" fill="#000"/><path d="M205.37,199.24 V204.05 M203.37,199.24 h4 M203.37,204.05 h4" stroke="#222" stroke-width="0.8" fill="none"/><path d="M205.37,199.34 L207.67,203.37 L203.07,203.37Z" fill="#000"/><circle cx="47.40" cy="292.92" r="2.00" fill="#000"/><circle cx="82.45" cy="293.40" r="2.00" fill="#000"/><circle cx="96.11" cy="291.19" r="2.00" fill="#000"/><circle cx="109.77" cy="293.40" r="2.00" fill="#000"/><circle cx="123.43" cy="292.44" r="2.00" fill="#000"/><circle cx="137.08" cy="287.64" r="2.00" fill="#000"/><path d="M150.74,259.29 V265.06 M148.74,259.29 h4 M148.74,265.06 h4" stroke="#222" stroke-width="0.8" fill="none"/><circle cx="150.74" cy="262.17" r="2.00" fill="#000"/><circle cx="164.40" cy="245.36" r="2.00" fill="#000"/><path d="M178.06,209.57 V219.18 M176.06,209.57 h4 M176.06,219.18 h4" stroke="#222" stroke-width="0.8" fill="none"/><circle cx="178.06" cy="214.37" r="2.00" fill="#000"/><path d="M191.71,198.52 V210.05 M189.71,198.52 h4 M189.71,210.05 h4" stroke="#222" stroke-width="0.8" fill="none"/><circle cx="191.71" cy="204.29" r="2.00" fill="#000"/><path d="M205.37,186.75 V200.20 M203.37,186.75 h4 M203.37,200.20 h4" stroke="#222" stroke-width="0.8" fill="none"/><circle cx="205.37" cy="193.48" r="2.00" fill="#000"/><text x="241.00" y="184.10" font-size="18.7" text-anchor="start" font-weight="bold" fill="#000" stroke="#000" stroke-width="0.3">E</text><path d="M285.40,173.40 V295.10 H469.50" fill="none" stroke="#333" stroke-width="1"/><path d="M282.20,295.10 H285.40 M282.20,264.68 H285.40 M282.20,234.25 H285.40 M282.20,203.82 H285.40 M282.20,173.40 H285.40 M285.40,295.10 v3.6 M331.42,295.10 v3.6 M377.45,295.10 v3.6 M423.48,295.10 v3.6 M469.50,295.10 v3.6 " fill="none" stroke="#333" stroke-width="1"/><text x="281.10" y="298.20" font-size="8.6" text-anchor="end" font-weight="normal" fill="#1a1a1a" stroke="#333" stroke-width="0.08">0</text><text x="281.10" y="267.78" font-size="8.6" text-anchor="end" font-weight="normal" fill="#1a1a1a" stroke="#333" stroke-width="0.08">50</text><text x="281.10" y="237.35" font-size="8.6" text-anchor="end" font-weight="normal" fill="#1a1a1a" stroke="#333" stroke-width="0.08">100</text><text x="281.10" y="206.92" font-size="8.6" text-anchor="end" font-weight="normal" fill="#1a1a1a" stroke="#333" stroke-width="0.08">150</text><text x="281.10" y="176.50" font-size="8.6" text-anchor="end" font-weight="normal" fill="#1a1a1a" stroke="#333" stroke-width="0.08">200</text><text x="285.70" y="308.90" font-size="8.6" text-anchor="middle" font-weight="normal" fill="#1a1a1a" stroke="#333" stroke-width="0.08">0</text><text x="331.72" y="308.90" font-size="8.6" text-anchor="middle" font-weight="normal" fill="#1a1a1a" stroke="#333" stroke-width="0.08">1</text><text x="377.75" y="308.90" font-size="8.6" text-anchor="middle" font-weight="normal" fill="#1a1a1a" stroke="#333" stroke-width="0.08">2</text><text x="423.78" y="308.90" font-size="8.6" text-anchor="middle" font-weight="normal" fill="#1a1a1a" stroke="#333" stroke-width="0.08">3</text><text x="469.80" y="308.90" font-size="8.6" text-anchor="middle" font-weight="normal" fill="#1a1a1a" stroke="#333" stroke-width="0.08">4</text><text x="377.45" y="322.90" font-size="11" text-anchor="middle" fill="#1a1a1a" stroke="#1a1a1a" stroke-width="0.22">[<tspan font-weight="bold">PUR</tspan>] (log nM)</text><text transform="translate(245.70,234.05) rotate(-90)" font-size="11.15" text-anchor="middle" fill="#1a1a1a" stroke="#1a1a1a" stroke-width="0.22">Gli1 mRNA</text><text transform="translate(258.60,233.05) rotate(-90)" font-size="11.35" text-anchor="middle" fill="#1a1a1a" stroke="#1a1a1a" stroke-width="0.22">(fold induction)</text><text x="301.40" y="189.30" font-size="11" fill="#1a1a1a" stroke="#1a1a1a" stroke-width="0.22">[</text><text x="304.90" y="189.30" font-size="11" font-weight="bold" fill="#000" stroke="#000" stroke-width="0.9" textLength="62.00" lengthAdjust="spacingAndGlyphs">GDC-0449</text><text x="392.80" y="189.30" font-size="11" text-anchor="end" fill="#1a1a1a" stroke="#1a1a1a" stroke-width="0.22">, nM]</text><circle cx="310.50" cy="203.60" r="1.80" fill="#000"/><text x="325.10" y="207.90" font-size="11.3" text-anchor="start" font-weight="normal" fill="#1a1a1a"  stroke="#1a1a1a" stroke-width="0.22">0</text><rect x="308.79" y="216.19" width="3.42" height="3.42" fill="#000"/><text x="325.10" y="222.20" font-size="11.3" text-anchor="start" font-weight="normal" fill="#1a1a1a"  stroke="#1a1a1a" stroke-width="0.22">4.1</text><path d="M310.50,234.27 L312.57,230.65 L308.43,230.65Z" fill="#000"/><text x="325.10" y="236.50" font-size="11.3" text-anchor="start" font-weight="normal" fill="#1a1a1a"  stroke="#1a1a1a" stroke-width="0.22">37</text><circle cx="310.50" cy="246.50" r="1.71" fill="#fff" stroke="#000" stroke-width="0.8"/><text x="325.10" y="250.80" font-size="11.3" text-anchor="start" font-weight="normal" fill="#1a1a1a"  stroke="#1a1a1a" stroke-width="0.22">333</text><rect x="308.70" y="259.00" width="3.60" height="3.60" fill="#fff" stroke="#000" stroke-width="0.8"/><text x="325.10" y="265.10" font-size="11.3" text-anchor="start" font-weight="normal" fill="#1a1a1a"  stroke="#1a1a1a" stroke-width="0.22">1000</text><polyline points="320.84,294.96 322.39,294.94 323.95,294.91 325.50,294.88 327.05,294.85 328.61,294.82 330.16,294.77 331.71,294.72 333.27,294.67 334.82,294.60 336.37,294.53 337.93,294.44 339.48,294.35 341.03,294.23 342.59,294.11 344.14,293.96 345.69,293.79 347.25,293.60 348.80,293.38 350.35,293.12 351.91,292.83 353.46,292.50 355.01,292.13 356.57,291.70 358.12,291.21 359.67,290.66 361.23,290.03 362.78,289.33 364.33,288.53 365.89,287.63 367.44,286.62 368.99,285.49 370.55,284.24 372.10,282.84 373.65,281.31 375.21,279.62 376.76,277.77 378.31,275.77 379.87,273.61 381.42,271.30 382.97,268.84 384.53,266.25 386.08,263.55 387.63,260.75 389.19,257.88 390.74,254.96 392.29,252.03 393.85,249.10 395.40,246.22 396.95,243.40 398.51,240.66 400.06,238.05 401.61,235.55 403.17,233.20 404.72,231.00 406.27,228.96 407.83,227.07 409.38,225.34 410.93,223.77 412.49,222.34 414.04,221.05 415.59,219.89 417.15,218.85 418.70,217.92 420.25,217.10 421.81,216.37 423.36,215.72 424.91,215.15 426.47,214.65 428.02,214.20 429.57,213.82 431.13,213.47 432.68,213.18 434.23,212.91 435.79,212.68 437.34,212.48 438.89,212.31 440.45,212.16 442.00,212.02 443.55,211.91 445.11,211.81" fill="none" stroke="#4646d6" stroke-width="1"/><polyline points="320.84,295.10 322.39,295.10 323.95,295.10 325.50,295.10 327.05,295.10 328.61,295.10 330.16,295.10 331.71,295.10 333.27,295.10 334.82,295.10 336.37,295.10 337.93,295.09 339.48,295.09 341.03,295.09 342.59,295.09 344.14,295.09 345.69,295.08 347.25,295.08 348.80,295.07 350.35,295.07 351.91,295.06 353.46,295.05 355.01,295.04 356.57,295.02 358.12,295.00 359.67,294.98 361.23,294.95 362.78,294.91 364.33,294.87 365.89,294.81 367.44,294.74 368.99,294.65 370.55,294.54 372.10,294.41 373.65,294.24 375.21,294.04 376.76,293.78 378.31,293.47 379.87,293.08 381.42,292.60 382.97,292.01 384.53,291.29 386.08,290.42 387.63,289.35 389.19,288.06 390.74,286.51 392.29,284.66 393.85,282.48 395.40,279.92 396.95,276.96 398.51,273.59 400.06,269.81 401.61,265.65 403.17,261.15 404.72,256.40 406.27,251.48 407.83,246.52 409.38,241.63 410.93,236.92 412.49,232.48 414.04,228.38 415.59,224.68 417.15,221.39 418.70,218.50 420.25,216.02 421.81,213.90 423.36,212.11 424.91,210.61 426.47,209.36 428.02,208.33 429.57,207.49 431.13,206.79 432.68,206.23 434.23,205.77 435.79,205.39 437.34,205.09 438.89,204.85 440.45,204.65 442.00,204.49 443.55,204.36 445.11,204.26" fill="none" stroke="#111" stroke-width="1"/><polyline points="320.84,295.10 322.39,295.10 323.95,295.10 325.50,295.10 327.05,295.10 328.61,295.10 330.16,295.10 331.71,295.10 333.27,295.10 334.82,295.10 336.37,295.10 337.93,295.10 339.48,295.10 341.03,295.10 342.59,295.10 344.14,295.10 345.69,295.10 347.25,295.10 348.80,295.10 350.35,295.10 351.91,295.10 353.46,295.10 355.01,295.10 356.57,295.10 358.12,295.09 359.67,295.09 361.23,295.09 362.78,295.09 364.33,295.08 365.89,295.08 367.44,295.07 368.99,295.06 370.55,295.05 372.10,295.04 373.65,295.02 375.21,295.00 376.76,294.97 378.31,294.94 379.87,294.89 381.42,294.83 382.97,294.75 384.53,294.65 386.08,294.51 387.63,294.34 389.19,294.13 390.74,293.85 392.29,293.49 393.85,293.03 395.40,292.44 396.95,291.69 398.51,290.75 400.06,289.56 401.61,288.07 403.17,286.24 404.72,283.99 406.27,281.28 407.83,278.05 409.38,274.31 410.93,270.04 412.49,265.31 414.04,260.22 415.59,254.91 417.15,249.53 418.70,244.27 420.25,239.29 421.81,234.71 423.36,230.61 424.91,227.04 426.47,223.99 428.02,221.44 429.57,219.33 431.13,217.62 432.68,216.24 434.23,215.14 435.79,214.27 437.34,213.58 438.89,213.04 440.45,212.61 442.00,212.28 443.55,212.02 445.11,211.82" fill="none" stroke="#111" stroke-width="1"/><polyline points="320.84,295.10 322.39,295.10 323.95,295.10 325.50,295.10 327.05,295.10 328.61,295.10 330.16,295.10 331.71,295.10 333.27,295.10 334.82,295.10 336.37,295.10 337.93,295.10 339.48,295.10 341.03,295.10 342.59,295.10 344.14,295.10 345.69,295.10 347.25,295.10 348.80,295.10 350.35,295.10 351.91,295.10 353.46,295.10 355.01,295.10 356.57,295.10 358.12,295.10 359.67,295.10 361.23,295.10 362.78,295.10 364.33,295.10 365.89,295.10 367.44,295.10 368.99,295.10 370.55,295.10 372.10,295.10 373.65,295.10 375.21,295.10 376.76,295.10 378.31,295.10 379.87,295.10 381.42,295.10 382.97,295.09 384.53,295.09 386.08,295.09 387.63,295.08 389.19,295.08 390.74,295.07 392.29,295.06 393.85,295.05 395.40,295.03 396.95,295.00 398.51,294.96 400.06,294.91 401.61,294.84 403.17,294.75 404.72,294.62 406.27,294.45 407.83,294.22 409.38,293.90 410.93,293.48 412.49,292.91 414.04,292.16 415.59,291.17 417.15,289.88 418.70,288.23 420.25,286.16 421.81,283.63 423.36,280.61 424.91,277.16 426.47,273.37 428.02,269.39 429.57,265.40 431.13,261.58 432.68,258.11 434.23,255.06 435.79,252.49 437.34,250.38 438.89,248.70 440.45,247.39 442.00,246.38 443.55,245.61 445.11,245.04" fill="none" stroke="#111" stroke-width="1"/><polyline points="320.84,295.10 322.39,295.10 323.95,295.10 325.50,295.10 327.05,295.10 328.61,295.10 330.16,295.10 331.71,295.10 333.27,295.10 334.82,295.10 336.37,295.10 337.93,295.10 339.48,295.10 341.03,295.10 342.59,295.10 344.14,295.10 345.69,295.10 347.25,295.10 348.80,295.10 350.35,295.10 351.91,295.10 353.46,295.10 355.01,295.10 356.57,295.10 358.12,295.10 359.67,295.10 361.23,295.10 362.78,295.10 364.33,295.10 365.89,295.10 367.44,295.10 368.99,295.10 370.55,295.10 372.10,295.10 373.65,295.10 375.21,295.10 376.76,295.10 378.31,295.10 379.87,295.10 381.42,295.10 382.97,295.10 384.53,295.10 386.08,295.10 387.63,295.09 389.19,295.09 390.74,295.09 392.29,295.09 393.85,295.08 395.40,295.08 396.95,295.07 398.51,295.06 400.06,295.05 401.61,295.03 403.17,295.00 404.72,294.97 406.27,294.93 407.83,294.88 409.38,294.81 410.93,294.72 412.49,294.60 414.04,294.44 415.59,294.24 417.15,293.98 418.70,293.65 420.25,293.22 421.81,292.69 423.36,292.04 424.91,291.24 426.47,290.31 428.02,289.23 429.57,288.02 431.13,286.72 432.68,285.36 434.23,284.01 435.79,282.71 437.34,281.50 438.89,280.42 440.45,279.48 442.00,278.69 443.55,278.04 445.11,277.50" fill="none" stroke="#d83c48" stroke-width="1"/><path d="M445.11,203.82 V258.59 M443.11,203.82 h4 M443.11,258.59 h4" stroke="#222" stroke-width="0.8" fill="none"/><rect x="318.84" y="293.10" width="4.00" height="4.00" fill="#fff" stroke="#000" stroke-width="0.8"/><rect x="332.65" y="293.10" width="4.00" height="4.00" fill="#fff" stroke="#000" stroke-width="0.8"/><rect x="346.45" y="293.10" width="4.00" height="4.00" fill="#fff" stroke="#000" stroke-width="0.8"/><rect x="360.26" y="293.10" width="4.00" height="4.00" fill="#fff" stroke="#000" stroke-width="0.8"/><rect x="374.07" y="293.10" width="4.00" height="4.00" fill="#fff" stroke="#000" stroke-width="0.8"/><rect x="387.88" y="293.10" width="4.00" height="4.00" fill="#fff" stroke="#000" stroke-width="0.8"/><rect x="401.68" y="293.10" width="4.00" height="4.00" fill="#fff" stroke="#000" stroke-width="0.8"/><rect x="415.49" y="291.88" width="4.00" height="4.00" fill="#fff" stroke="#000" stroke-width="0.8"/><rect x="429.30" y="284.58" width="4.00" height="4.00" fill="#fff" stroke="#000" stroke-width="0.8"/><path d="M445.11,275.14 V281.23 M443.11,275.14 h4 M443.11,281.23 h4" stroke="#222" stroke-width="0.8" fill="none"/><rect x="443.11" y="276.18" width="4.00" height="4.00" fill="#fff" stroke="#000" stroke-width="0.8"/><circle cx="320.84" cy="295.10" r="1.90" fill="#fff" stroke="#000" stroke-width="0.8"/><circle cx="334.65" cy="295.10" r="1.90" fill="#fff" stroke="#000" stroke-width="0.8"/><circle cx="348.45" cy="295.10" r="1.90" fill="#fff" stroke="#000" stroke-width="0.8"/><circle cx="362.26" cy="295.10" r="1.90" fill="#fff" stroke="#000" stroke-width="0.8"/><circle cx="376.07" cy="295.10" r="1.90" fill="#fff" stroke="#000" stroke-width="0.8"/><circle cx="389.88" cy="295.10" r="1.90" fill="#fff" stroke="#000" stroke-width="0.8"/><circle cx="403.68" cy="294.49" r="1.90" fill="#fff" stroke="#000" stroke-width="0.8"/><circle cx="417.49" cy="290.23" r="1.90" fill="#fff" stroke="#000" stroke-width="0.8"/><circle cx="431.30" cy="259.02" r="1.90" fill="#fff" stroke="#000" stroke-width="0.8"/><path d="M445.11,233.64 V254.33 M443.11,233.64 h4 M443.11,254.33 h4" stroke="#222" stroke-width="0.8" fill="none"/><circle cx="445.11" cy="243.99" r="1.90" fill="#fff" stroke="#000" stroke-width="0.8"/><path d="M320.84,297.40 L323.14,293.38 L318.54,293.38Z" fill="#000"/><path d="M334.65,297.40 L336.95,293.38 L332.35,293.38Z" fill="#000"/><path d="M348.45,297.40 L350.75,293.38 L346.15,293.38Z" fill="#000"/><path d="M362.26,297.40 L364.56,293.38 L359.96,293.38Z" fill="#000"/><path d="M376.07,297.40 L378.37,293.38 L373.77,293.38Z" fill="#000"/><path d="M389.88,296.79 L392.18,292.77 L387.58,292.77Z" fill="#000"/><path d="M403.68,288.70 L405.98,284.67 L401.38,284.67Z" fill="#000"/><path d="M417.49,241.98 V249.28 M415.49,241.98 h4 M415.49,249.28 h4" stroke="#222" stroke-width="0.8" fill="none"/><path d="M417.49,247.93 L419.79,243.90 L415.19,243.90Z" fill="#000"/><path d="M431.30,220.73 L433.60,216.70 L429.00,216.70Z" fill="#000"/><path d="M445.11,215.86 L447.41,211.84 L442.81,211.84Z" fill="#000"/><rect x="318.94" y="293.20" width="3.80" height="3.80" fill="#000"/><rect x="332.75" y="293.20" width="3.80" height="3.80" fill="#000"/><rect x="346.55" y="293.20" width="3.80" height="3.80" fill="#000"/><rect x="360.36" y="293.20" width="3.80" height="3.80" fill="#000"/><rect x="374.17" y="291.98" width="3.80" height="3.80" fill="#000"/><path d="M389.88,279.64 V286.95 M387.88,279.64 h4 M387.88,286.95 h4" stroke="#222" stroke-width="0.8" fill="none"/><rect x="387.98" y="281.40" width="3.80" height="3.80" fill="#000"/><path d="M403.68,253.84 V264.80 M401.68,253.84 h4 M401.68,264.80 h4" stroke="#222" stroke-width="0.8" fill="none"/><rect x="401.78" y="257.42" width="3.80" height="3.80" fill="#000"/><path d="M417.49,211.43 V221.17 M415.49,211.43 h4 M415.49,221.17 h4" stroke="#222" stroke-width="0.8" fill="none"/><rect x="415.59" y="214.40" width="3.80" height="3.80" fill="#000"/><path d="M431.30,211.13 V216.00 M429.30,211.13 h4 M429.30,216.00 h4" stroke="#222" stroke-width="0.8" fill="none"/><rect x="429.40" y="211.66" width="3.80" height="3.80" fill="#000"/><path d="M445.11,192.81 V205.59 M443.11,192.81 h4 M443.11,205.59 h4" stroke="#222" stroke-width="0.8" fill="none"/><rect x="443.21" y="197.30" width="3.80" height="3.80" fill="#000"/><circle cx="320.84" cy="295.10" r="2.00" fill="#000"/><circle cx="334.65" cy="295.10" r="2.00" fill="#000"/><circle cx="348.45" cy="295.10" r="2.00" fill="#000"/><circle cx="362.26" cy="292.91" r="2.00" fill="#000"/><circle cx="376.07" cy="282.08" r="2.00" fill="#000"/><path d="M389.88,248.43 V258.16 M387.88,248.43 h4 M387.88,258.16 h4" stroke="#222" stroke-width="0.8" fill="none"/><circle cx="389.88" cy="253.30" r="2.00" fill="#000"/><path d="M403.68,227.74 V239.91 M401.68,227.74 h4 M401.68,239.91 h4" stroke="#222" stroke-width="0.8" fill="none"/><circle cx="403.68" cy="233.82" r="2.00" fill="#000"/><circle cx="417.49" cy="216.30" r="2.00" fill="#000"/><path d="M431.30,218.12 V229.08 M429.30,218.12 h4 M429.30,229.08 h4" stroke="#222" stroke-width="0.8" fill="none"/><circle cx="431.30" cy="223.60" r="2.00" fill="#000"/><circle cx="445.11" cy="206.26" r="2.00" fill="#000"/><text x="474.30" y="184.10" font-size="18.7" text-anchor="start" font-weight="bold" fill="#000" stroke="#000" stroke-width="0.3">F</text><path d="M517.40,176.50 V296.00 H697.10" fill="none" stroke="#333" stroke-width="1"/><path d="M514.20,296.00 H517.40 M514.20,272.10 H517.40 M514.20,248.20 H517.40 M514.20,224.30 H517.40 M514.20,200.40 H517.40 M514.20,176.50 H517.40 M517.40,296.00 v3.6 M562.33,296.00 v3.6 M607.25,296.00 v3.6 M652.17,296.00 v3.6 M697.10,296.00 v3.6 " fill="none" stroke="#333" stroke-width="1"/><text x="513.10" y="299.10" font-size="8.6" text-anchor="end" font-weight="normal" fill="#1a1a1a" stroke="#333" stroke-width="0.08">0</text><text x="513.10" y="275.20" font-size="8.6" text-anchor="end" font-weight="normal" fill="#1a1a1a" stroke="#333" stroke-width="0.08">50</text><text x="513.10" y="251.30" font-size="8.6" text-anchor="end" font-weight="normal" fill="#1a1a1a" stroke="#333" stroke-width="0.08">100</text><text x="513.10" y="227.40" font-size="8.6" text-anchor="end" font-weight="normal" fill="#1a1a1a" stroke="#333" stroke-width="0.08">150</text><text x="513.10" y="203.50" font-size="8.6" text-anchor="end" font-weight="normal" fill="#1a1a1a" stroke="#333" stroke-width="0.08">200</text><text x="513.10" y="179.60" font-size="8.6" text-anchor="end" font-weight="normal" fill="#1a1a1a" stroke="#333" stroke-width="0.08">250</text><text x="517.70" y="309.40" font-size="8.6" text-anchor="middle" font-weight="normal" fill="#1a1a1a" stroke="#333" stroke-width="0.08">0</text><text x="562.62" y="309.40" font-size="8.6" text-anchor="middle" font-weight="normal" fill="#1a1a1a" stroke="#333" stroke-width="0.08">1</text><text x="607.55" y="309.40" font-size="8.6" text-anchor="middle" font-weight="normal" fill="#1a1a1a" stroke="#333" stroke-width="0.08">2</text><text x="652.47" y="309.40" font-size="8.6" text-anchor="middle" font-weight="normal" fill="#1a1a1a" stroke="#333" stroke-width="0.08">3</text><text x="697.40" y="309.40" font-size="8.6" text-anchor="middle" font-weight="normal" fill="#1a1a1a" stroke="#333" stroke-width="0.08">4</text><text x="607.25" y="322.90" font-size="11" text-anchor="middle" fill="#1a1a1a" stroke="#1a1a1a" stroke-width="0.22">[<tspan font-weight="bold">PUR</tspan>] (log nM)</text><text transform="translate(478.60,236.05) rotate(-90)" font-size="11.15" text-anchor="middle" fill="#1a1a1a" stroke="#1a1a1a" stroke-width="0.22">Gli1 mRNA</text><text transform="translate(491.40,235.05) rotate(-90)" font-size="11.35" text-anchor="middle" fill="#1a1a1a" stroke="#1a1a1a" stroke-width="0.22">(fold induction)</text><text x="530.30" y="192.90" font-size="11" fill="#1a1a1a" stroke="#1a1a1a" stroke-width="0.22">[</text><text x="533.60" y="192.90" font-size="11.5" font-weight="bold" fill="#000" stroke="#000" stroke-width="0.9" textLength="15.20" lengthAdjust="spacingAndGlyphs">29</text><text x="573.30" y="192.90" font-size="11" text-anchor="end" fill="#1a1a1a" stroke="#1a1a1a" stroke-width="0.22">, nM]</text><circle cx="536.00" cy="207.70" r="1.80" fill="#000"/><text x="550.20" y="212.00" font-size="11.3" text-anchor="start" font-weight="normal" fill="#1a1a1a"  stroke="#1a1a1a" stroke-width="0.22">0</text><rect x="534.29" y="219.59" width="3.42" height="3.42" fill="#000"/><text x="550.20" y="225.60" font-size="11.3" text-anchor="start" font-weight="normal" fill="#1a1a1a"  stroke="#1a1a1a" stroke-width="0.22">103</text><path d="M536.00,236.97 L538.07,233.35 L533.93,233.35Z" fill="#000"/><text x="550.20" y="239.20" font-size="11.3" text-anchor="start" font-weight="normal" fill="#1a1a1a"  stroke="#1a1a1a" stroke-width="0.22">926</text><circle cx="536.00" cy="248.50" r="1.71" fill="#fff" stroke="#000" stroke-width="0.8"/><text x="550.20" y="252.80" font-size="11.3" text-anchor="start" font-weight="normal" fill="#1a1a1a"  stroke="#1a1a1a" stroke-width="0.22">8333</text><rect x="534.20" y="260.30" width="3.60" height="3.60" fill="#fff" stroke="#000" stroke-width="0.8"/><text x="550.20" y="266.40" font-size="11.3" text-anchor="start" font-weight="normal" fill="#1a1a1a"  stroke="#1a1a1a" stroke-width="0.22">25000</text><polyline points="551.99,295.99 553.35,295.99 554.71,295.98 556.07,295.98 557.43,295.98 558.79,295.97 560.15,295.96 561.51,295.96 562.86,295.95 564.22,295.94 565.58,295.93 566.94,295.91 568.30,295.90 569.66,295.87 571.02,295.85 572.38,295.82 573.74,295.78 575.09,295.74 576.45,295.69 577.81,295.63 579.17,295.56 580.53,295.47 581.89,295.36 583.25,295.24 584.61,295.09 585.97,294.91 587.33,294.70 588.68,294.45 590.04,294.15 591.40,293.79 592.76,293.37 594.12,292.87 595.48,292.28 596.84,291.58 598.20,290.76 599.56,289.81 600.92,288.70 602.27,287.42 603.63,285.95 604.99,284.26 606.35,282.36 607.71,280.22 609.07,277.86 610.43,275.25 611.79,272.44 613.15,269.43 614.51,266.26 615.86,262.97 617.22,259.61 618.58,256.24 619.94,252.90 621.30,249.67 622.66,246.56 624.02,243.64 625.38,240.92 626.74,238.43 628.10,236.17 629.45,234.15 630.81,232.35 632.17,230.77 633.53,229.39 634.89,228.19 636.25,227.15 637.61,226.27 638.97,225.51 640.33,224.87 641.69,224.32 643.04,223.86 644.40,223.47 645.76,223.14 647.12,222.86 648.48,222.63 649.84,222.43 651.20,222.27 652.56,222.13 653.92,222.02 655.27,221.92 656.63,221.84 657.99,221.77 659.35,221.72 660.71,221.67" fill="none" stroke="#4646d6" stroke-width="1"/><polyline points="551.99,295.99 553.35,295.98 554.71,295.98 556.07,295.98 557.43,295.97 558.79,295.97 560.15,295.96 561.51,295.96 562.86,295.95 564.22,295.94 565.58,295.93 566.94,295.91 568.30,295.89 569.66,295.87 571.02,295.85 572.38,295.82 573.74,295.79 575.09,295.75 576.45,295.70 577.81,295.65 579.17,295.58 580.53,295.50 581.89,295.40 583.25,295.29 584.61,295.16 585.97,295.00 587.33,294.81 588.68,294.59 590.04,294.33 591.40,294.02 592.76,293.65 594.12,293.22 595.48,292.71 596.84,292.11 598.20,291.42 599.56,290.60 600.92,289.65 602.27,288.56 603.63,287.29 604.99,285.84 606.35,284.18 607.71,282.31 609.07,280.20 610.43,277.86 611.79,275.28 613.15,272.47 614.51,269.44 615.86,266.22 617.22,262.84 618.58,259.34 619.94,255.78 621.30,252.20 622.66,248.67 624.02,245.23 625.38,241.92 626.74,238.79 628.10,235.87 629.45,233.17 630.81,230.71 632.17,228.49 633.53,226.50 634.89,224.74 636.25,223.19 637.61,221.83 638.97,220.66 640.33,219.64 641.69,218.76 643.04,218.00 644.40,217.36 645.76,216.81 647.12,216.34 648.48,215.94 649.84,215.60 651.20,215.32 652.56,215.08 653.92,214.87 655.27,214.70 656.63,214.56 657.99,214.43 659.35,214.33 660.71,214.24" fill="none" stroke="#111" stroke-width="1"/><polyline points="551.99,296.00 553.35,296.00 554.71,296.00 556.07,296.00 557.43,296.00 558.79,296.00 560.15,296.00 561.51,296.00 562.86,295.99 564.22,295.99 565.58,295.99 566.94,295.99 568.30,295.99 569.66,295.98 571.02,295.98 572.38,295.97 573.74,295.97 575.09,295.96 576.45,295.95 577.81,295.94 579.17,295.93 580.53,295.91 581.89,295.89 583.25,295.86 584.61,295.83 585.97,295.79 587.33,295.74 588.68,295.68 590.04,295.61 591.40,295.52 592.76,295.41 594.12,295.27 595.48,295.10 596.84,294.89 598.20,294.64 599.56,294.33 600.92,293.96 602.27,293.50 603.63,292.94 604.99,292.27 606.35,291.46 607.71,290.49 609.07,289.32 610.43,287.95 611.79,286.33 613.15,284.44 614.51,282.27 615.86,279.80 617.22,277.03 618.58,273.98 619.94,270.67 621.30,267.15 622.66,263.48 624.02,259.75 625.38,256.02 626.74,252.38 628.10,248.90 629.45,245.64 630.81,242.65 632.17,239.94 633.53,237.54 634.89,235.43 636.25,233.60 637.61,232.04 638.97,230.71 640.33,229.59 641.69,228.65 643.04,227.87 644.40,227.23 645.76,226.69 647.12,226.25 648.48,225.89 649.84,225.60 651.20,225.36 652.56,225.16 653.92,225.00 655.27,224.87 656.63,224.76 657.99,224.68 659.35,224.61 660.71,224.55" fill="none" stroke="#111" stroke-width="1"/><polyline points="551.99,296.00 553.35,296.00 554.71,296.00 556.07,296.00 557.43,296.00 558.79,296.00 560.15,296.00 561.51,296.00 562.86,296.00 564.22,296.00 565.58,296.00 566.94,296.00 568.30,296.00 569.66,296.00 571.02,296.00 572.38,296.00 573.74,296.00 575.09,296.00 576.45,296.00 577.81,296.00 579.17,295.99 580.53,295.99 581.89,295.99 583.25,295.99 584.61,295.99 585.97,295.98 587.33,295.98 588.68,295.97 590.04,295.97 591.40,295.96 592.76,295.95 594.12,295.94 595.48,295.92 596.84,295.90 598.20,295.88 599.56,295.85 600.92,295.81 602.27,295.77 603.63,295.71 604.99,295.64 606.35,295.55 607.71,295.43 609.07,295.30 610.43,295.12 611.79,294.91 613.15,294.64 614.51,294.31 615.86,293.91 617.22,293.41 618.58,292.80 619.94,292.06 621.30,291.16 622.66,290.08 624.02,288.80 625.38,287.28 626.74,285.52 628.10,283.50 629.45,281.22 630.81,278.69 632.17,275.95 633.53,273.03 634.89,270.01 636.25,266.95 637.61,263.93 638.97,261.01 640.33,258.27 641.69,255.75 643.04,253.48 644.40,251.46 645.76,249.71 647.12,248.20 648.48,246.92 649.84,245.85 651.20,244.95 652.56,244.21 653.92,243.61 655.27,243.11 656.63,242.71 657.99,242.38 659.35,242.12 660.71,241.90" fill="none" stroke="#111" stroke-width="1"/><polyline points="620.73,294.88 621.23,294.81 621.73,294.74 622.23,294.66 622.73,294.58 623.23,294.49 623.73,294.39 624.23,294.29 624.73,294.19 625.23,294.08 625.73,293.96 626.23,293.83 626.72,293.70 627.22,293.56 627.72,293.41 628.22,293.25 628.72,293.08 629.22,292.91 629.72,292.72 630.22,292.52 630.72,292.31 631.22,292.09 631.72,291.86 632.22,291.61 632.72,291.35 633.22,291.08 633.72,290.79 634.22,290.48 634.72,290.16 635.22,289.82 635.72,289.47 636.22,289.09 636.72,288.70 637.22,288.29 637.72,287.85 638.22,287.40 638.72,286.92 639.22,286.42 639.72,285.90 640.22,285.36 640.72,284.79 641.22,284.19 641.72,283.58 642.22,282.93 642.72,282.26 643.22,281.57 643.72,280.84 644.22,280.10 644.72,279.32 645.22,278.52 645.72,277.70 646.22,276.85 646.72,275.97 647.22,275.07 647.72,274.15 648.22,273.20 648.72,272.24 649.22,271.25 649.72,270.25 650.22,269.22 650.71,268.18 651.21,267.13 651.71,266.06 652.21,264.99 652.71,263.90 653.21,262.81 653.71,261.71 654.21,260.61 654.71,259.51 655.21,258.41 655.71,257.31 656.21,256.22 656.71,255.13 657.21,254.06 657.71,252.99 658.21,251.94 658.71,250.90 659.21,249.88 659.71,248.88 660.21,247.90 660.71,246.93" fill="none" stroke="#d83c48" stroke-width="1"/><path d="M660.71,179.99 V269.90 M658.71,179.99 h4 M658.71,269.90 h4" stroke="#222" stroke-width="0.8" fill="none"/><rect x="549.99" y="294.00" width="4.00" height="4.00" fill="#fff" stroke="#000" stroke-width="0.8"/><rect x="563.47" y="294.00" width="4.00" height="4.00" fill="#fff" stroke="#000" stroke-width="0.8"/><rect x="576.95" y="294.00" width="4.00" height="4.00" fill="#fff" stroke="#000" stroke-width="0.8"/><rect x="590.42" y="294.00" width="4.00" height="4.00" fill="#fff" stroke="#000" stroke-width="0.8"/><rect x="604.35" y="294.00" width="4.00" height="4.00" fill="#fff" stroke="#000" stroke-width="0.8"/><rect x="616.93" y="294.00" width="4.00" height="4.00" fill="#fff" stroke="#000" stroke-width="0.8"/><rect x="630.86" y="290.27" width="4.00" height="4.00" fill="#fff" stroke="#000" stroke-width="0.8"/><rect x="644.78" y="292.28" width="4.00" height="4.00" fill="#fff" stroke="#000" stroke-width="0.8"/><rect x="658.71" y="241.42" width="4.00" height="4.00" fill="#fff" stroke="#000" stroke-width="0.8"/><circle cx="551.99" cy="296.00" r="1.90" fill="#fff" stroke="#000" stroke-width="0.8"/><circle cx="565.47" cy="296.00" r="1.90" fill="#fff" stroke="#000" stroke-width="0.8"/><circle cx="578.95" cy="296.00" r="1.90" fill="#fff" stroke="#000" stroke-width="0.8"/><circle cx="592.42" cy="296.00" r="1.90" fill="#fff" stroke="#000" stroke-width="0.8"/><circle cx="606.35" cy="296.00" r="1.90" fill="#fff" stroke="#000" stroke-width="0.8"/><circle cx="618.93" cy="292.18" r="1.90" fill="#fff" stroke="#000" stroke-width="0.8"/><path d="M632.86,272.58 V277.36 M630.86,272.58 h4 M630.86,277.36 h4" stroke="#222" stroke-width="0.8" fill="none"/><circle cx="632.86" cy="274.97" r="1.90" fill="#fff" stroke="#000" stroke-width="0.8"/><circle cx="646.78" cy="244.85" r="1.90" fill="#fff" stroke="#000" stroke-width="0.8"/><circle cx="660.71" cy="245.33" r="1.90" fill="#fff" stroke="#000" stroke-width="0.8"/><path d="M551.99,298.30 L554.29,294.27 L549.69,294.27Z" fill="#000"/><path d="M565.47,298.30 L567.77,294.27 L563.17,294.27Z" fill="#000"/><path d="M578.95,298.30 L581.25,294.27 L576.65,294.27Z" fill="#000"/><path d="M592.42,298.30 L594.72,294.27 L590.12,294.27Z" fill="#000"/><path d="M606.35,296.39 L608.65,292.36 L604.05,292.36Z" fill="#000"/><path d="M618.93,279.27 V285.96 M616.93,279.27 h4 M616.93,285.96 h4" stroke="#222" stroke-width="0.8" fill="none"/><path d="M618.93,284.92 L621.23,280.89 L616.63,280.89Z" fill="#000"/><path d="M632.86,231.71 V257.52 M630.86,231.71 h4 M630.86,257.52 h4" stroke="#222" stroke-width="0.8" fill="none"/><path d="M632.86,246.92 L635.16,242.89 L630.56,242.89Z" fill="#000"/><path d="M646.78,233.38 V239.12 M644.78,233.38 h4 M644.78,239.12 h4" stroke="#222" stroke-width="0.8" fill="none"/><path d="M646.78,238.55 L649.08,234.53 L644.48,234.53Z" fill="#000"/><path d="M660.71,227.08 L663.01,223.05 L658.41,223.05Z" fill="#000"/><rect x="550.09" y="294.10" width="3.80" height="3.80" fill="#000"/><rect x="563.57" y="294.10" width="3.80" height="3.80" fill="#000"/><rect x="577.05" y="294.10" width="3.80" height="3.80" fill="#000"/><rect x="590.52" y="293.62" width="3.80" height="3.80" fill="#000"/><rect x="604.45" y="285.50" width="3.80" height="3.80" fill="#000"/><path d="M618.93,256.80 V264.45 M616.93,256.80 h4 M616.93,264.45 h4" stroke="#222" stroke-width="0.8" fill="none"/><rect x="617.03" y="258.73" width="3.80" height="3.80" fill="#000"/><path d="M632.86,225.26 V230.04 M630.86,225.26 h4 M630.86,230.04 h4" stroke="#222" stroke-width="0.8" fill="none"/><rect x="630.96" y="225.75" width="3.80" height="3.80" fill="#000"/><rect x="644.88" y="217.29" width="3.80" height="3.80" fill="#000"/><rect x="658.81" y="211.88" width="3.80" height="3.80" fill="#000"/><circle cx="551.99" cy="296.00" r="2.00" fill="#000"/><circle cx="565.47" cy="296.00" r="2.00" fill="#000"/><circle cx="578.95" cy="296.00" r="2.00" fill="#000"/><circle cx="592.42" cy="295.52" r="2.00" fill="#000"/><circle cx="606.35" cy="286.44" r="2.00" fill="#000"/><circle cx="618.93" cy="255.37" r="2.00" fill="#000"/><circle cx="632.86" cy="230.04" r="2.00" fill="#000"/><circle cx="646.78" cy="218.56" r="2.00" fill="#000"/><circle cx="660.71" cy="224.01" r="2.00" fill="#000"/></svg></body></html>
